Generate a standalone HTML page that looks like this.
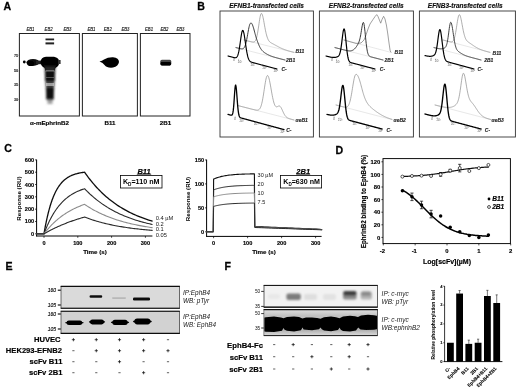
<!DOCTYPE html>
<html><head><meta charset="utf-8"><style>
html,body{margin:0;padding:0;background:#fff;}
body{width:520px;height:390px;overflow:hidden;}
svg{display:block;font-family:"Liberation Sans",sans-serif;}
</style></head><body>
<svg width="520" height="390" viewBox="0 0 520 390">
<rect x="0" y="0" width="520" height="390" fill="#fff"/>
<filter id="gb" x="0" y="0" width="520" height="390" filterUnits="userSpaceOnUse"><feGaussianBlur stdDeviation="0.32"/></filter>
<g filter="url(#gb)">
<text x="3.4" y="10" font-size="10.6" font-weight="bold" font-style="normal" text-anchor="start" fill="#000"  stroke="#000" stroke-width="0.254">A</text>
<text x="197.2" y="10" font-size="10.6" font-weight="bold" font-style="normal" text-anchor="start" fill="#000"  stroke="#000" stroke-width="0.254">B</text>
<text x="4.2" y="152" font-size="10.6" font-weight="bold" font-style="normal" text-anchor="start" fill="#000"  stroke="#000" stroke-width="0.254">C</text>
<text x="335.5" y="153.6" font-size="10.6" font-weight="bold" font-style="normal" text-anchor="start" fill="#000"  stroke="#000" stroke-width="0.254">D</text>
<text x="5.6" y="270" font-size="10.6" font-weight="bold" font-style="normal" text-anchor="start" fill="#000"  stroke="#000" stroke-width="0.254">E</text>
<text x="224.6" y="270" font-size="10.6" font-weight="bold" font-style="normal" text-anchor="start" fill="#000"  stroke="#000" stroke-width="0.254">F</text>
<defs>
<filter id="b1" x="-50%" y="-50%" width="200%" height="200%"><feGaussianBlur stdDeviation="0.7"/></filter>
<filter id="b2" x="-50%" y="-50%" width="200%" height="200%"><feGaussianBlur stdDeviation="1.2"/></filter>
<filter id="b3" x="-50%" y="-50%" width="200%" height="200%"><feGaussianBlur stdDeviation="0.45"/></filter>
<filter id="b4" x="-50%" y="-50%" width="200%" height="200%"><feGaussianBlur stdDeviation="1.8"/></filter>
</defs>
<rect x="19.4" y="33.5" width="60.00000000000001" height="82.5" fill="none" stroke="#222" stroke-width="1.0" />
<rect x="82.4" y="33.5" width="55.0" height="82.5" fill="none" stroke="#222" stroke-width="1.0" />
<rect x="140.4" y="33.5" width="49.599999999999994" height="82.5" fill="none" stroke="#222" stroke-width="1.0" />
<text x="26.4" y="31.3" font-size="4.9" font-weight="normal" font-style="italic" text-anchor="start" fill="#111" textLength="8" lengthAdjust="spacingAndGlyphs" stroke="#111" stroke-width="0.14">EB1</text>
<text x="44.6" y="31.3" font-size="4.9" font-weight="normal" font-style="italic" text-anchor="start" fill="#111" textLength="8" lengthAdjust="spacingAndGlyphs" stroke="#111" stroke-width="0.14">EB2</text>
<text x="63.4" y="31.3" font-size="4.9" font-weight="normal" font-style="italic" text-anchor="start" fill="#111" textLength="8" lengthAdjust="spacingAndGlyphs" stroke="#111" stroke-width="0.14">EB3</text>
<text x="87.4" y="31.3" font-size="4.9" font-weight="normal" font-style="italic" text-anchor="start" fill="#111" textLength="8" lengthAdjust="spacingAndGlyphs" stroke="#111" stroke-width="0.14">EB1</text>
<text x="103.80000000000001" y="31.3" font-size="4.9" font-weight="normal" font-style="italic" text-anchor="start" fill="#111" textLength="8" lengthAdjust="spacingAndGlyphs" stroke="#111" stroke-width="0.14">EB2</text>
<text x="121.4" y="31.3" font-size="4.9" font-weight="normal" font-style="italic" text-anchor="start" fill="#111" textLength="8" lengthAdjust="spacingAndGlyphs" stroke="#111" stroke-width="0.14">EB3</text>
<text x="145.0" y="31.3" font-size="4.9" font-weight="normal" font-style="italic" text-anchor="start" fill="#111" textLength="8" lengthAdjust="spacingAndGlyphs" stroke="#111" stroke-width="0.14">EB1</text>
<text x="160.4" y="31.3" font-size="4.9" font-weight="normal" font-style="italic" text-anchor="start" fill="#111" textLength="8" lengthAdjust="spacingAndGlyphs" stroke="#111" stroke-width="0.14">EB2</text>
<text x="176.4" y="31.3" font-size="4.9" font-weight="normal" font-style="italic" text-anchor="start" fill="#111" textLength="8" lengthAdjust="spacingAndGlyphs" stroke="#111" stroke-width="0.14">EB3</text>
<text x="18" y="56.6" font-size="3.7" font-weight="bold" font-style="normal" text-anchor="end" fill="#222"  stroke="#222" stroke-width="0.089">75</text>
<line x1="18.3" y1="55.2" x2="19.4" y2="55.2" stroke="#444" stroke-width="0.5" />
<text x="18" y="72.4" font-size="3.7" font-weight="bold" font-style="normal" text-anchor="end" fill="#222"  stroke="#222" stroke-width="0.089">50</text>
<line x1="18.3" y1="71" x2="19.4" y2="71" stroke="#444" stroke-width="0.5" />
<text x="18" y="86.4" font-size="3.7" font-weight="bold" font-style="normal" text-anchor="end" fill="#222"  stroke="#222" stroke-width="0.089">35</text>
<line x1="18.3" y1="85" x2="19.4" y2="85" stroke="#444" stroke-width="0.5" />
<text x="18" y="101.0" font-size="3.7" font-weight="bold" font-style="normal" text-anchor="end" fill="#222"  stroke="#222" stroke-width="0.089">30</text>
<line x1="18.3" y1="99.6" x2="19.4" y2="99.6" stroke="#444" stroke-width="0.5" />
<g filter="url(#b1)">
<ellipse cx="24.3" cy="62" rx="1.4" ry="1.4" fill="#000"/>
<ellipse cx="33" cy="62.4" rx="6.6" ry="3.5" fill="#111"/>
<ellipse cx="30.6" cy="63.3" rx="3.6" ry="2.8" fill="#000"/>
<rect x="36" y="60.6" width="8" height="3.6" fill="#222"/>
<path d="M40.4,62 Q41,57.4 46,56.8 L54,56.8 Q59,57.6 59.4,62 Q59,66.4 55.4,68 L54.6,71 L45.4,71 L44.6,68 Q41,66.6 40.4,62Z" fill="#000"/>
<rect x="58" y="60" width="2.6" height="4" fill="#333"/>
<rect x="45.5" y="38.5" width="8.6" height="1.8" fill="#222"/>
<rect x="45.5" y="42.4" width="8.6" height="2.0" fill="#222"/>
</g>
<g filter="url(#b2)">
<path d="M44.4,66 L55.6,66 L54.4,84 L53.6,100 L46.4,100 L45.6,84Z" fill="#2a2a2a" opacity="0.9"/>
<rect x="45" y="71" width="10" height="10" fill="#0a0a0a" opacity="0.9"/>
<rect x="46.4" y="88" width="7.2" height="11" fill="#0a0a0a" opacity="0.9"/>
<rect x="47.4" y="99" width="5.2" height="5" fill="#666" opacity="0.6"/>
</g>
<g filter="url(#b3)"><rect x="45.6" y="70.2" width="8.8" height="1.2" fill="#ccc" opacity="0.55"/><rect x="46" y="77" width="8" height="0.9" fill="#bbb" opacity="0.45"/><rect x="46" y="83" width="8" height="3" fill="#ddd" opacity="0.6"/></g>
<g filter="url(#b1)">
<path d="M99.5,61.5 Q102,61 104,59.5 Q108,57 113,57.2 Q119,58 119,62 Q118.5,66 113,67.6 Q107,68.3 104.5,65 Q103,62.8 99.5,61.5Z" fill="#000"/>
</g>
<g filter="url(#b1)">
<rect x="160.3" y="59.8" width="11" height="5.6" rx="1.6" fill="#444"/>
<rect x="160.5" y="62" width="10.6" height="3.4" rx="1.4" fill="#000"/>
</g>
<text x="49.5" y="125" font-size="6.2" font-weight="bold" font-style="normal" text-anchor="middle" fill="#000"  stroke="#000" stroke-width="0.149">α-mEphrinB2</text>
<text x="110" y="125" font-size="6.2" font-weight="bold" font-style="normal" text-anchor="middle" fill="#000"  stroke="#000" stroke-width="0.149">B11</text>
<text x="165.5" y="125" font-size="6.2" font-weight="bold" font-style="normal" text-anchor="middle" fill="#000"  stroke="#000" stroke-width="0.149">2B1</text>
<rect x="220" y="11" width="93.39999999999998" height="126" fill="none" stroke="#333" stroke-width="0.9" />
<text x="266.6" y="7.7" font-size="6.5" font-weight="bold" font-style="italic" text-anchor="middle" fill="#111"  stroke="#111" stroke-width="0.156">EFNB1-transfected cells</text>
<rect x="319.4" y="11" width="94.0" height="126" fill="none" stroke="#333" stroke-width="0.9" />
<text x="366.2" y="7.7" font-size="6.5" font-weight="bold" font-style="italic" text-anchor="middle" fill="#111"  stroke="#111" stroke-width="0.156">EFNB2-transfected cells</text>
<rect x="419.4" y="11" width="96.0" height="126" fill="none" stroke="#333" stroke-width="0.9" />
<text x="465.2" y="7.7" font-size="6.5" font-weight="bold" font-style="italic" text-anchor="middle" fill="#111"  stroke="#111" stroke-width="0.156">EFNB3-transfected cells</text>
<line x1="244" y1="40" x2="294" y2="52.4" stroke="#ccc" stroke-width="0.45" />
<path d="M244.00,40.00 L244.31,40.08 L244.62,40.15 L244.94,40.23 L245.25,40.31 L245.56,40.39 L245.88,40.46 L246.19,40.54 L246.50,40.62 L246.81,40.70 L247.12,40.77 L247.44,40.85 L247.75,40.93 L248.06,41.01 L248.38,41.08 L248.69,41.16 L249.00,41.24 L249.31,41.32 L249.62,41.39 L249.94,41.47 L250.25,41.55 L250.56,41.62 L250.88,41.70 L251.19,41.77 L251.50,41.84 L251.81,41.90 L252.12,41.96 L252.44,42.01 L252.75,42.05 L253.06,42.07 L253.38,42.06 L253.69,42.03 L254.00,41.95 L254.31,41.81 L254.62,41.61 L254.94,41.32 L255.25,40.93 L255.56,40.41 L255.88,39.75 L256.19,38.93 L256.50,37.93 L256.81,36.74 L257.12,35.36 L257.44,33.78 L257.75,32.01 L258.06,30.09 L258.38,28.04 L258.69,25.91 L259.00,23.76 L259.31,21.64 L259.62,19.63 L259.94,17.81 L260.25,16.23 L260.56,14.96 L260.88,14.06 L261.19,13.56 L261.50,13.47 L261.81,13.73 L262.12,14.28 L262.44,15.13 L262.75,16.22 L263.06,17.54 L263.38,19.03 L263.69,20.65 L264.00,22.36 L264.31,24.12 L264.62,25.88 L264.94,27.60 L265.25,29.26 L265.56,30.82 L265.88,32.29 L266.19,33.63 L266.50,34.86 L266.81,35.97 L267.12,36.96 L267.44,37.86 L267.75,38.66 L268.06,39.38 L268.38,40.01 L268.69,40.54 L269.00,41.00 L269.31,41.39 L269.62,41.73 L269.94,42.02 L270.25,42.27 L270.56,42.50 L270.88,42.71 L271.19,42.90 L271.50,43.08 L271.81,43.25 L272.12,43.42 L272.44,43.59 L272.75,43.75 L273.06,43.92 L273.38,44.08 L273.69,44.25 L274.00,44.42 L274.31,44.58 L274.62,44.75 L274.94,44.92 L275.25,45.10 L275.56,45.27 L275.88,45.44 L276.19,45.61 L276.50,45.79 L276.81,45.96 L277.12,46.13 L277.44,46.30 L277.75,46.47 L278.06,46.63 L278.38,46.80 L278.69,46.96 L279.00,47.13 L279.31,47.29 L279.62,47.44 L279.94,47.60 L280.25,47.75 L280.56,47.90 L280.88,48.05 L281.19,48.19 L281.50,48.34 L281.81,48.48 L282.12,48.61 L282.44,48.75 L282.75,48.88 L283.06,49.01 L283.38,49.13 L283.69,49.26 L284.00,49.38 L284.31,49.50 L284.62,49.61 L284.94,49.73 L285.25,49.84 L285.56,49.95 L285.88,50.06 L286.19,50.16 L286.50,50.26 L286.81,50.37 L287.12,50.47 L287.44,50.56 L287.75,50.66 L288.06,50.76 L288.38,50.85 L288.69,50.94 L289.00,51.03 L289.31,51.12 L289.62,51.21 L289.94,51.30 L290.25,51.39 L290.56,51.47 L290.88,51.56 L291.19,51.64 L291.50,51.73 L291.81,51.81 L292.12,51.89 L292.44,51.97 L292.75,52.06 L293.06,52.14 L293.38,52.22 L293.69,52.30 L294.00,52.38" stroke="#8a8a8a" stroke-width="0.7" fill="none" stroke-linejoin="round" stroke-linecap="round" />
<line x1="236" y1="47.6" x2="285" y2="60" stroke="#ccc" stroke-width="0.45" />
<path d="M236.00,47.60 L236.31,47.68 L236.61,47.75 L236.92,47.83 L237.22,47.91 L237.53,47.99 L237.84,48.06 L238.14,48.14 L238.45,48.22 L238.76,48.29 L239.06,48.37 L239.37,48.44 L239.68,48.52 L239.98,48.59 L240.29,48.66 L240.59,48.72 L240.90,48.78 L241.21,48.82 L241.51,48.86 L241.82,48.88 L242.12,48.87 L242.43,48.84 L242.74,48.77 L243.04,48.66 L243.35,48.49 L243.66,48.25 L243.96,47.93 L244.27,47.51 L244.57,46.99 L244.88,46.34 L245.19,45.56 L245.49,44.64 L245.80,43.57 L246.11,42.35 L246.41,41.00 L246.72,39.51 L247.03,37.92 L247.33,36.24 L247.64,34.51 L247.94,32.77 L248.25,31.06 L248.56,29.43 L248.86,27.91 L249.17,26.55 L249.47,25.38 L249.78,24.45 L250.09,23.76 L250.39,23.32 L250.70,23.06 L251.01,22.99 L251.31,23.08 L251.62,23.35 L251.93,23.77 L252.23,24.34 L252.54,25.04 L252.84,25.85 L253.15,26.76 L253.46,27.76 L253.76,28.82 L254.07,29.94 L254.38,31.10 L254.68,32.27 L254.99,33.43 L255.29,34.56 L255.60,35.66 L255.91,36.71 L256.21,37.73 L256.52,38.70 L256.82,39.63 L257.13,40.52 L257.44,41.38 L257.74,42.20 L258.05,42.99 L258.36,43.76 L258.66,44.50 L258.97,45.22 L259.27,45.91 L259.58,46.56 L259.89,47.17 L260.19,47.74 L260.50,48.26 L260.81,48.76 L261.11,49.21 L261.42,49.64 L261.73,50.03 L262.03,50.40 L262.34,50.74 L262.64,51.06 L262.95,51.36 L263.26,51.64 L263.56,51.90 L263.87,52.15 L264.18,52.39 L264.48,52.62 L264.79,52.83 L265.09,53.04 L265.40,53.24 L265.71,53.43 L266.01,53.62 L266.32,53.80 L266.62,53.98 L266.93,54.15 L267.24,54.32 L267.54,54.48 L267.85,54.64 L268.16,54.79 L268.46,54.94 L268.77,55.09 L269.07,55.23 L269.38,55.37 L269.69,55.51 L269.99,55.64 L270.30,55.77 L270.61,55.90 L270.91,56.02 L271.22,56.14 L271.52,56.25 L271.83,56.36 L272.14,56.47 L272.44,56.58 L272.75,56.68 L273.06,56.78 L273.36,56.88 L273.67,56.98 L273.98,57.08 L274.28,57.17 L274.59,57.26 L274.89,57.35 L275.20,57.44 L275.51,57.53 L275.81,57.62 L276.12,57.70 L276.43,57.79 L276.73,57.87 L277.04,57.95 L277.34,58.03 L277.65,58.12 L277.96,58.20 L278.26,58.28 L278.57,58.36 L278.88,58.44 L279.18,58.52 L279.49,58.60 L279.79,58.68 L280.10,58.75 L280.41,58.83 L280.71,58.91 L281.02,58.99 L281.32,59.07 L281.63,59.15 L281.94,59.22 L282.24,59.30 L282.55,59.38 L282.86,59.46 L283.16,59.53 L283.47,59.61 L283.77,59.69 L284.08,59.77 L284.39,59.84 L284.69,59.92 L285.00,60.00" stroke="#222" stroke-width="0.9" fill="none" stroke-linejoin="round" stroke-linecap="round" />
<path d="M228.00,56.00 L228.31,56.08 L228.61,56.16 L228.92,56.24 L229.22,56.32 L229.53,56.41 L229.84,56.49 L230.14,56.57 L230.45,56.65 L230.76,56.73 L231.06,56.81 L231.37,56.89 L231.68,56.97 L231.98,57.06 L232.29,57.14 L232.59,57.22 L232.90,57.29 L233.21,57.37 L233.51,57.45 L233.82,57.52 L234.12,57.58 L234.43,57.64 L234.74,57.68 L235.04,57.71 L235.35,57.71 L235.66,57.68 L235.96,57.60 L236.27,57.47 L236.57,57.25 L236.88,56.95 L237.19,56.52 L237.49,55.96 L237.80,55.23 L238.11,54.32 L238.41,53.21 L238.72,51.90 L239.03,50.36 L239.33,48.63 L239.64,46.71 L239.94,44.64 L240.25,42.47 L240.56,40.28 L240.86,38.12 L241.17,36.08 L241.47,34.24 L241.78,32.70 L242.09,31.51 L242.39,30.74 L242.70,30.43 L243.01,30.57 L243.31,31.13 L243.62,32.07 L243.93,33.36 L244.23,34.95 L244.54,36.79 L244.84,38.81 L245.15,40.94 L245.46,43.13 L245.76,45.30 L246.07,47.41 L246.38,49.41 L246.68,51.28 L246.99,52.97 L247.29,54.49 L247.60,55.83 L247.91,56.99 L248.21,57.98 L248.52,58.82 L248.82,59.51 L249.13,60.08 L249.44,60.55 L249.74,60.94 L250.05,61.25 L250.36,61.50 L250.66,61.71 L250.97,61.88 L251.28,62.03 L251.58,62.16 L251.89,62.27 L252.19,62.38 L252.50,62.47 L252.81,62.56 L253.11,62.65 L253.42,62.74 L253.72,62.82 L254.03,62.90 L254.34,62.99 L254.64,63.07 L254.95,63.15 L255.26,63.23 L255.56,63.31 L255.87,63.39 L256.18,63.47 L256.48,63.56 L256.79,63.64 L257.09,63.72 L257.40,63.80 L257.71,63.88 L258.01,63.96 L258.32,64.04 L258.62,64.12 L258.93,64.21 L259.24,64.29 L259.54,64.37 L259.85,64.45 L260.16,64.53 L260.46,64.61 L260.77,64.69 L261.07,64.77 L261.38,64.86 L261.69,64.94 L261.99,65.02 L262.30,65.10 L262.61,65.18 L262.91,65.26 L263.22,65.34 L263.52,65.42 L263.83,65.51 L264.14,65.59 L264.44,65.67 L264.75,65.75 L265.06,65.83 L265.36,65.91 L265.67,65.99 L265.98,66.08 L266.28,66.16 L266.59,66.24 L266.89,66.32 L267.20,66.40 L267.51,66.48 L267.81,66.56 L268.12,66.64 L268.43,66.72 L268.73,66.81 L269.04,66.89 L269.34,66.97 L269.65,67.05 L269.96,67.13 L270.26,67.21 L270.57,67.29 L270.88,67.38 L271.18,67.46 L271.49,67.54 L271.79,67.62 L272.10,67.70 L272.41,67.78 L272.71,67.86 L273.02,67.94 L273.32,68.03 L273.63,68.11 L273.94,68.19 L274.24,68.27 L274.55,68.35 L274.86,68.43 L275.16,68.51 L275.47,68.59 L275.77,68.67 L276.08,68.76 L276.39,68.84 L276.69,68.92 L277.00,69.00" stroke="#000" stroke-width="1.15" fill="none" stroke-linejoin="round" stroke-linecap="round" />
<text x="233.37" y="61.489999999999995" font-size="3.0" font-weight="normal" font-style="italic" text-anchor="start" fill="#555" >0</text>
<line x1="234.37" y1="57.69" x2="233.97" y2="58.79" stroke="#555" stroke-width="0.35" />
<text x="237.78" y="62.66" font-size="3.0" font-weight="normal" font-style="italic" text-anchor="start" fill="#555" >10²</text>
<line x1="238.78" y1="58.86" x2="238.38" y2="59.96" stroke="#555" stroke-width="0.35" />
<text x="250.52" y="66.04" font-size="3.0" font-weight="normal" font-style="italic" text-anchor="start" fill="#555" >10³</text>
<line x1="251.52" y1="62.24" x2="251.12" y2="63.34" stroke="#555" stroke-width="0.35" />
<text x="262.28" y="69.16" font-size="3.0" font-weight="normal" font-style="italic" text-anchor="start" fill="#555" >10⁴</text>
<line x1="263.28" y1="65.36" x2="262.88" y2="66.46" stroke="#555" stroke-width="0.35" />
<text x="273.55" y="72.14999999999999" font-size="3.0" font-weight="normal" font-style="italic" text-anchor="start" fill="#555" >10⁵</text>
<line x1="274.55" y1="68.35" x2="274.15000000000003" y2="69.44999999999999" stroke="#555" stroke-width="0.35" />
<text x="295.4" y="53" font-size="5.0" font-weight="bold" font-style="italic" text-anchor="start" fill="#222"  stroke="#222" stroke-width="0.120">B11</text>
<text x="286" y="61.7" font-size="5.0" font-weight="bold" font-style="italic" text-anchor="start" fill="#222"  stroke="#222" stroke-width="0.120">2B1</text>
<text x="281.4" y="71.2" font-size="5.0" font-weight="bold" font-style="italic" text-anchor="start" fill="#222"  stroke="#222" stroke-width="0.120">C-</text>
<line x1="238" y1="105.6" x2="294" y2="120" stroke="#ccc" stroke-width="0.45" />
<path d="M238.00,105.60 L238.35,105.69 L238.70,105.78 L239.05,105.87 L239.40,105.96 L239.75,106.05 L240.10,106.14 L240.45,106.23 L240.80,106.32 L241.15,106.41 L241.50,106.50 L241.85,106.59 L242.20,106.68 L242.55,106.77 L242.90,106.86 L243.25,106.95 L243.60,107.04 L243.95,107.13 L244.30,107.22 L244.65,107.31 L245.00,107.40 L245.35,107.49 L245.70,107.58 L246.05,107.67 L246.40,107.76 L246.75,107.85 L247.10,107.94 L247.45,108.03 L247.80,108.12 L248.15,108.21 L248.50,108.30 L248.85,108.39 L249.20,108.48 L249.55,108.57 L249.90,108.66 L250.25,108.75 L250.60,108.84 L250.95,108.92 L251.30,109.01 L251.65,109.10 L252.00,109.19 L252.35,109.28 L252.70,109.36 L253.05,109.45 L253.40,109.53 L253.75,109.62 L254.10,109.70 L254.45,109.78 L254.80,109.85 L255.15,109.93 L255.50,109.99 L255.85,110.05 L256.20,110.11 L256.55,110.14 L256.90,110.17 L257.25,110.17 L257.60,110.14 L257.95,110.08 L258.30,109.97 L258.65,109.81 L259.00,109.57 L259.35,109.26 L259.70,108.85 L260.05,108.32 L260.40,107.66 L260.75,106.86 L261.10,105.89 L261.45,104.74 L261.80,103.40 L262.15,101.88 L262.50,100.17 L262.85,98.28 L263.20,96.23 L263.55,94.04 L263.90,91.76 L264.25,89.43 L264.60,87.10 L264.95,84.84 L265.30,82.69 L265.65,80.73 L266.00,79.01 L266.35,77.59 L266.70,76.51 L267.05,75.82 L267.40,75.53 L267.75,75.60 L268.10,76.00 L268.45,76.71 L268.80,77.71 L269.15,78.97 L269.50,80.46 L269.85,82.14 L270.20,83.97 L270.55,85.90 L270.90,87.90 L271.25,89.91 L271.60,91.92 L271.95,93.87 L272.30,95.74 L272.65,97.50 L273.00,99.14 L273.35,100.64 L273.70,101.98 L274.05,103.15 L274.40,104.16 L274.75,105.00 L275.10,105.67 L275.45,106.18 L275.80,106.54 L276.15,106.75 L276.50,106.84 L276.85,106.82 L277.20,106.72 L277.55,106.56 L277.90,106.38 L278.25,106.19 L278.60,106.05 L278.95,105.96 L279.30,105.96 L279.65,106.07 L280.00,106.29 L280.35,106.63 L280.70,107.08 L281.05,107.62 L281.40,108.25 L281.75,108.94 L282.10,109.69 L282.45,110.46 L282.80,111.25 L283.15,112.03 L283.50,112.78 L283.85,113.50 L284.20,114.17 L284.55,114.78 L284.90,115.34 L285.25,115.83 L285.60,116.27 L285.95,116.66 L286.30,116.99 L286.65,117.29 L287.00,117.54 L287.35,117.76 L287.70,117.96 L288.05,118.13 L288.40,118.29 L288.75,118.43 L289.10,118.57 L289.45,118.69 L289.80,118.80 L290.15,118.92 L290.50,119.02 L290.85,119.13 L291.20,119.23 L291.55,119.33 L291.90,119.42 L292.25,119.52 L292.60,119.62 L292.95,119.71 L293.30,119.80 L293.65,119.90 L294.00,119.99" stroke="#8a8a8a" stroke-width="0.7" fill="none" stroke-linejoin="round" stroke-linecap="round" />
<path d="M228.00,114.40 L228.35,114.49 L228.70,114.59 L229.05,114.68 L229.40,114.78 L229.75,114.87 L230.10,114.97 L230.45,115.06 L230.80,115.14 L231.15,115.20 L231.50,115.20 L231.85,115.10 L232.20,114.76 L232.55,114.03 L232.90,112.67 L233.25,110.44 L233.60,107.16 L233.95,102.83 L234.30,97.77 L234.65,92.61 L235.00,88.23 L235.35,85.52 L235.70,85.06 L236.05,86.57 L236.40,89.63 L236.75,93.78 L237.10,98.42 L237.45,103.01 L237.80,107.10 L238.15,110.44 L238.50,112.99 L238.85,114.79 L239.20,116.00 L239.55,116.76 L239.90,117.24 L240.25,117.54 L240.60,117.74 L240.95,117.88 L241.30,118.00 L241.65,118.10 L242.00,118.20 L242.35,118.29 L242.70,118.39 L243.05,118.48 L243.40,118.58 L243.75,118.67 L244.10,118.77 L244.45,118.86 L244.80,118.96 L245.15,119.05 L245.50,119.15 L245.85,119.24 L246.20,119.34 L246.55,119.43 L246.90,119.53 L247.25,119.62 L247.60,119.72 L247.95,119.81 L248.30,119.91 L248.65,120.00 L249.00,120.10 L249.35,120.19 L249.70,120.29 L250.05,120.39 L250.40,120.48 L250.75,120.58 L251.10,120.67 L251.45,120.77 L251.80,120.86 L252.15,120.95 L252.50,121.05 L252.85,121.14 L253.20,121.24 L253.55,121.34 L253.90,121.43 L254.25,121.53 L254.60,121.62 L254.95,121.72 L255.30,121.81 L255.65,121.91 L256.00,122.00 L256.35,122.09 L256.70,122.19 L257.05,122.28 L257.40,122.38 L257.75,122.47 L258.10,122.57 L258.45,122.66 L258.80,122.76 L259.15,122.85 L259.50,122.95 L259.85,123.05 L260.20,123.14 L260.55,123.23 L260.90,123.33 L261.25,123.42 L261.60,123.52 L261.95,123.61 L262.30,123.71 L262.65,123.80 L263.00,123.90 L263.35,124.00 L263.70,124.09 L264.05,124.19 L264.40,124.28 L264.75,124.38 L265.10,124.47 L265.45,124.56 L265.80,124.66 L266.15,124.75 L266.50,124.85 L266.85,124.95 L267.20,125.04 L267.55,125.14 L267.90,125.23 L268.25,125.33 L268.60,125.42 L268.95,125.52 L269.30,125.61 L269.65,125.70 L270.00,125.80 L270.35,125.90 L270.70,125.99 L271.05,126.08 L271.40,126.18 L271.75,126.27 L272.10,126.37 L272.45,126.46 L272.80,126.56 L273.15,126.65 L273.50,126.75 L273.85,126.84 L274.20,126.94 L274.55,127.03 L274.90,127.13 L275.25,127.22 L275.60,127.32 L275.95,127.41 L276.30,127.51 L276.65,127.60 L277.00,127.70 L277.35,127.80 L277.70,127.89 L278.05,127.98 L278.40,128.08 L278.75,128.17 L279.10,128.27 L279.45,128.36 L279.80,128.46 L280.15,128.55 L280.50,128.65 L280.85,128.75 L281.20,128.84 L281.55,128.94 L281.90,129.03 L282.25,129.12 L282.60,129.22 L282.95,129.31 L283.30,129.41 L283.65,129.50 L284.00,129.60" stroke="#000" stroke-width="1.3" fill="none" stroke-linejoin="round" stroke-linecap="round" />
<text x="234.28" y="120.176" font-size="3.0" font-weight="normal" font-style="italic" text-anchor="start" fill="#555" >0</text>
<line x1="235.28" y1="116.376" x2="234.88" y2="117.476" stroke="#555" stroke-width="0.35" />
<text x="239.32" y="121.544" font-size="3.0" font-weight="normal" font-style="italic" text-anchor="start" fill="#555" >10²</text>
<line x1="240.32" y1="117.744" x2="239.92" y2="118.844" stroke="#555" stroke-width="0.35" />
<text x="253.88" y="125.496" font-size="3.0" font-weight="normal" font-style="italic" text-anchor="start" fill="#555" >10³</text>
<line x1="254.88" y1="121.696" x2="254.48" y2="122.79599999999999" stroke="#555" stroke-width="0.35" />
<text x="267.32" y="129.144" font-size="3.0" font-weight="normal" font-style="italic" text-anchor="start" fill="#555" >10⁴</text>
<line x1="268.32" y1="125.344" x2="267.92" y2="126.44399999999999" stroke="#555" stroke-width="0.35" />
<text x="280.2" y="132.64000000000001" font-size="3.0" font-weight="normal" font-style="italic" text-anchor="start" fill="#555" >10⁵</text>
<line x1="281.2" y1="128.84" x2="280.8" y2="129.94" stroke="#555" stroke-width="0.35" />
<text x="295.6" y="121.7" font-size="5.0" font-weight="bold" font-style="italic" text-anchor="start" fill="#222"  stroke="#222" stroke-width="0.120">αeB1</text>
<text x="286.2" y="132" font-size="5.0" font-weight="bold" font-style="italic" text-anchor="start" fill="#222"  stroke="#222" stroke-width="0.120">C-</text>
<line x1="344" y1="40" x2="391" y2="52.4" stroke="#ccc" stroke-width="0.45" />
<path d="M344.00,40.00 L356.00,43.40 L361.00,43.00 L364.00,40.00 L366.00,35.00 L368.00,29.00 L370.00,24.00 L372.80,19.80 L375.00,16.60 L376.70,14.60 L378.00,16.50 L379.40,20.00 L380.70,23.20 L382.00,19.50 L383.60,16.30 L385.00,19.00 L386.40,25.00 L387.80,34.00 L389.00,43.00 L390.20,51.00 L391.00,52.20" stroke="#777" stroke-width="0.7" fill="none" stroke-linejoin="round" stroke-linecap="round" />
<line x1="335" y1="47.6" x2="383" y2="60" stroke="#ccc" stroke-width="0.45" />
<path d="M335.00,47.60 L335.30,47.68 L335.60,47.75 L335.90,47.83 L336.20,47.91 L336.50,47.99 L336.80,48.06 L337.10,48.14 L337.40,48.22 L337.70,48.30 L338.00,48.37 L338.30,48.45 L338.60,48.53 L338.90,48.61 L339.20,48.68 L339.50,48.76 L339.80,48.84 L340.10,48.92 L340.40,48.99 L340.70,49.07 L341.00,49.15 L341.30,49.23 L341.60,49.30 L341.90,49.38 L342.20,49.46 L342.50,49.53 L342.80,49.61 L343.10,49.68 L343.40,49.76 L343.70,49.84 L344.00,49.91 L344.30,49.98 L344.60,50.06 L344.90,50.13 L345.20,50.20 L345.50,50.27 L345.80,50.34 L346.10,50.40 L346.40,50.47 L346.70,50.53 L347.00,50.59 L347.30,50.64 L347.60,50.70 L347.90,50.74 L348.20,50.79 L348.50,50.82 L348.80,50.85 L349.10,50.88 L349.40,50.89 L349.70,50.90 L350.00,50.90 L350.30,50.88 L350.60,50.86 L350.90,50.82 L351.20,50.76 L351.50,50.70 L351.80,50.61 L352.10,50.51 L352.40,50.39 L352.70,50.25 L353.00,50.08 L353.30,49.90 L353.60,49.70 L353.90,49.47 L354.20,49.21 L354.50,48.94 L354.80,48.64 L355.10,48.32 L355.40,47.97 L355.70,47.60 L356.00,47.21 L356.30,46.80 L356.60,46.36 L356.90,45.91 L357.20,45.43 L357.50,44.93 L357.80,44.40 L358.10,43.83 L358.40,43.22 L358.70,42.54 L359.00,41.78 L359.30,40.92 L359.60,39.93 L359.90,38.78 L360.20,37.47 L360.50,35.99 L360.80,34.33 L361.10,32.54 L361.40,30.66 L361.70,28.77 L362.00,26.95 L362.30,25.32 L362.60,23.97 L362.90,23.01 L363.20,22.50 L363.50,22.50 L363.80,23.18 L364.10,24.55 L364.40,26.51 L364.70,28.96 L365.00,31.75 L365.30,34.73 L365.60,37.76 L365.90,40.70 L366.20,43.46 L366.50,45.96 L366.80,48.15 L367.10,50.02 L367.40,51.57 L367.70,52.83 L368.00,53.82 L368.30,54.59 L368.60,55.17 L368.90,55.62 L369.20,55.95 L369.50,56.20 L369.80,56.40 L370.10,56.55 L370.40,56.67 L370.70,56.78 L371.00,56.88 L371.30,56.96 L371.60,57.05 L371.90,57.13 L372.20,57.21 L372.50,57.29 L372.80,57.36 L373.10,57.44 L373.40,57.52 L373.70,57.60 L374.00,57.67 L374.30,57.75 L374.60,57.83 L374.90,57.91 L375.20,57.98 L375.50,58.06 L375.80,58.14 L376.10,58.22 L376.40,58.29 L376.70,58.37 L377.00,58.45 L377.30,58.53 L377.60,58.60 L377.90,58.68 L378.20,58.76 L378.50,58.84 L378.80,58.91 L379.10,58.99 L379.40,59.07 L379.70,59.15 L380.00,59.22 L380.30,59.30 L380.60,59.38 L380.90,59.46 L381.20,59.53 L381.50,59.61 L381.80,59.69 L382.10,59.77 L382.40,59.84 L382.70,59.92 L383.00,60.00" stroke="#222" stroke-width="0.9" fill="none" stroke-linejoin="round" stroke-linecap="round" />
<path d="M326.00,56.00 L326.31,56.08 L326.61,56.16 L326.92,56.23 L327.23,56.31 L327.53,56.39 L327.84,56.47 L328.14,56.55 L328.45,56.62 L328.76,56.70 L329.06,56.77 L329.37,56.84 L329.68,56.91 L329.98,56.98 L330.29,57.04 L330.59,57.11 L330.90,57.16 L331.21,57.22 L331.51,57.27 L331.82,57.31 L332.12,57.36 L332.43,57.39 L332.74,57.42 L333.04,57.44 L333.35,57.45 L333.66,57.46 L333.96,57.46 L334.27,57.45 L334.57,57.43 L334.88,57.40 L335.19,57.36 L335.49,57.31 L335.80,57.25 L336.11,57.19 L336.41,57.10 L336.72,57.01 L337.02,56.91 L337.33,56.78 L337.64,56.63 L337.94,56.44 L338.25,56.22 L338.56,55.92 L338.86,55.55 L339.17,55.06 L339.48,54.43 L339.78,53.62 L340.09,52.60 L340.39,51.34 L340.70,49.81 L341.01,48.00 L341.31,45.93 L341.62,43.62 L341.93,41.15 L342.23,38.59 L342.54,36.07 L342.84,33.72 L343.15,31.70 L343.46,30.15 L343.76,29.20 L344.07,28.90 L344.38,29.30 L344.68,30.45 L344.99,32.27 L345.29,34.66 L345.60,37.45 L345.91,40.49 L346.21,43.61 L346.52,46.66 L346.82,49.51 L347.13,52.09 L347.44,54.33 L347.74,56.21 L348.05,57.76 L348.36,58.99 L348.66,59.95 L348.97,60.68 L349.27,61.23 L349.58,61.64 L349.89,61.94 L350.19,62.17 L350.50,62.35 L350.81,62.49 L351.11,62.61 L351.42,62.71 L351.73,62.81 L352.03,62.90 L352.34,62.98 L352.64,63.07 L352.95,63.15 L353.26,63.23 L353.56,63.31 L353.87,63.39 L354.18,63.47 L354.48,63.56 L354.79,63.64 L355.09,63.72 L355.40,63.80 L355.71,63.88 L356.01,63.96 L356.32,64.04 L356.62,64.12 L356.93,64.21 L357.24,64.29 L357.54,64.37 L357.85,64.45 L358.16,64.53 L358.46,64.61 L358.77,64.69 L359.07,64.77 L359.38,64.86 L359.69,64.94 L359.99,65.02 L360.30,65.10 L360.61,65.18 L360.91,65.26 L361.22,65.34 L361.52,65.42 L361.83,65.51 L362.14,65.59 L362.44,65.67 L362.75,65.75 L363.06,65.83 L363.36,65.91 L363.67,65.99 L363.98,66.08 L364.28,66.16 L364.59,66.24 L364.89,66.32 L365.20,66.40 L365.51,66.48 L365.81,66.56 L366.12,66.64 L366.43,66.72 L366.73,66.81 L367.04,66.89 L367.34,66.97 L367.65,67.05 L367.96,67.13 L368.26,67.21 L368.57,67.29 L368.88,67.38 L369.18,67.46 L369.49,67.54 L369.79,67.62 L370.10,67.70 L370.41,67.78 L370.71,67.86 L371.02,67.94 L371.32,68.03 L371.63,68.11 L371.94,68.19 L372.24,68.27 L372.55,68.35 L372.86,68.43 L373.16,68.51 L373.47,68.59 L373.77,68.67 L374.08,68.76 L374.39,68.84 L374.69,68.92 L375.00,69.00" stroke="#000" stroke-width="1.2" fill="none" stroke-linejoin="round" stroke-linecap="round" />
<text x="331.37" y="61.489999999999995" font-size="3.0" font-weight="normal" font-style="italic" text-anchor="start" fill="#555" >0</text>
<line x1="332.37" y1="57.69" x2="331.97" y2="58.79" stroke="#555" stroke-width="0.35" />
<text x="335.78" y="62.66" font-size="3.0" font-weight="normal" font-style="italic" text-anchor="start" fill="#555" >10²</text>
<line x1="336.78" y1="58.86" x2="336.38" y2="59.96" stroke="#555" stroke-width="0.35" />
<text x="348.52" y="66.04" font-size="3.0" font-weight="normal" font-style="italic" text-anchor="start" fill="#555" >10³</text>
<line x1="349.52" y1="62.24" x2="349.12" y2="63.34" stroke="#555" stroke-width="0.35" />
<text x="360.28" y="69.16" font-size="3.0" font-weight="normal" font-style="italic" text-anchor="start" fill="#555" >10⁴</text>
<line x1="361.28" y1="65.36" x2="360.88" y2="66.46" stroke="#555" stroke-width="0.35" />
<text x="371.55" y="72.14999999999999" font-size="3.0" font-weight="normal" font-style="italic" text-anchor="start" fill="#555" >10⁵</text>
<line x1="372.55" y1="68.35" x2="372.15000000000003" y2="69.44999999999999" stroke="#555" stroke-width="0.35" />
<text x="394.6" y="54" font-size="5.0" font-weight="bold" font-style="italic" text-anchor="start" fill="#222"  stroke="#222" stroke-width="0.120">B11</text>
<text x="384.6" y="61.6" font-size="5.0" font-weight="bold" font-style="italic" text-anchor="start" fill="#222"  stroke="#222" stroke-width="0.120">2B1</text>
<text x="379.8" y="71.2" font-size="5.0" font-weight="bold" font-style="italic" text-anchor="start" fill="#222"  stroke="#222" stroke-width="0.120">C-</text>
<line x1="336" y1="105" x2="392" y2="119.6" stroke="#ccc" stroke-width="0.45" />
<path d="M336.00,105.00 L336.35,105.09 L336.70,105.18 L337.05,105.27 L337.40,105.36 L337.75,105.46 L338.10,105.55 L338.45,105.64 L338.80,105.73 L339.15,105.82 L339.50,105.91 L339.85,106.00 L340.20,106.09 L340.55,106.18 L340.90,106.28 L341.25,106.37 L341.60,106.46 L341.95,106.54 L342.30,106.63 L342.65,106.72 L343.00,106.80 L343.35,106.89 L343.70,106.97 L344.05,107.04 L344.40,107.10 L344.75,107.16 L345.10,107.20 L345.45,107.22 L345.80,107.22 L346.15,107.18 L346.50,107.11 L346.85,106.99 L347.20,106.80 L347.55,106.54 L347.90,106.19 L348.25,105.74 L348.60,105.16 L348.95,104.44 L349.30,103.57 L349.65,102.54 L350.00,101.33 L350.35,99.94 L350.70,98.38 L351.05,96.64 L351.40,94.75 L351.75,92.73 L352.10,90.61 L352.45,88.43 L352.80,86.24 L353.15,84.09 L353.50,82.04 L353.85,80.14 L354.20,78.45 L354.55,77.02 L354.90,75.89 L355.25,75.09 L355.60,74.64 L355.95,74.45 L356.30,74.40 L356.65,74.49 L357.00,74.73 L357.35,75.10 L357.70,75.60 L358.05,76.22 L358.40,76.97 L358.75,77.82 L359.10,78.76 L359.45,79.79 L359.80,80.90 L360.15,82.07 L360.50,83.30 L360.85,84.56 L361.20,85.86 L361.55,87.18 L361.90,88.51 L362.25,89.84 L362.60,91.13 L362.95,92.37 L363.30,93.56 L363.65,94.69 L364.00,95.77 L364.35,96.78 L364.70,97.74 L365.05,98.63 L365.40,99.47 L365.75,100.25 L366.10,100.98 L366.45,101.66 L366.80,102.28 L367.15,102.87 L367.50,103.42 L367.85,103.92 L368.20,104.40 L368.55,104.85 L368.90,105.27 L369.25,105.67 L369.60,106.05 L369.95,106.41 L370.30,106.75 L370.65,107.09 L371.00,107.41 L371.35,107.72 L371.70,108.03 L372.05,108.33 L372.40,108.62 L372.75,108.91 L373.10,109.19 L373.45,109.47 L373.80,109.75 L374.15,110.02 L374.50,110.29 L374.85,110.56 L375.20,110.82 L375.55,111.09 L375.90,111.34 L376.25,111.60 L376.60,111.85 L376.95,112.10 L377.30,112.34 L377.65,112.59 L378.00,112.82 L378.35,113.06 L378.70,113.29 L379.05,113.52 L379.40,113.74 L379.75,113.96 L380.10,114.17 L380.45,114.38 L380.80,114.59 L381.15,114.79 L381.50,114.99 L381.85,115.19 L382.20,115.38 L382.55,115.56 L382.90,115.75 L383.25,115.93 L383.60,116.10 L383.95,116.27 L384.30,116.44 L384.65,116.60 L385.00,116.76 L385.35,116.92 L385.70,117.07 L386.05,117.22 L386.40,117.37 L386.75,117.52 L387.10,117.66 L387.45,117.79 L387.80,117.93 L388.15,118.06 L388.50,118.19 L388.85,118.32 L389.20,118.45 L389.55,118.57 L389.90,118.69 L390.25,118.81 L390.60,118.93 L390.95,119.04 L391.30,119.16 L391.65,119.27 L392.00,119.38" stroke="#8a8a8a" stroke-width="0.7" fill="none" stroke-linejoin="round" stroke-linecap="round" />
<path d="M327.00,114.37 L327.34,114.46 L327.69,114.54 L328.03,114.62 L328.38,114.69 L328.72,114.77 L329.06,114.84 L329.41,114.90 L329.75,114.96 L330.09,115.02 L330.44,115.07 L330.78,115.11 L331.12,115.14 L331.47,115.17 L331.81,115.18 L332.16,115.19 L332.50,115.18 L332.84,115.17 L333.19,115.13 L333.53,115.09 L333.88,115.03 L334.22,114.96 L334.56,114.88 L334.91,114.78 L335.25,114.67 L335.59,114.54 L335.94,114.39 L336.28,114.21 L336.62,113.99 L336.97,113.73 L337.31,113.39 L337.66,112.94 L338.00,112.35 L338.34,111.57 L338.69,110.55 L339.03,109.24 L339.38,107.60 L339.72,105.60 L340.06,103.25 L340.41,100.60 L340.75,97.72 L341.09,94.75 L341.44,91.86 L341.78,89.27 L342.12,87.22 L342.47,85.87 L342.81,85.37 L343.16,85.77 L343.50,87.14 L343.84,89.37 L344.19,92.30 L344.53,95.70 L344.88,99.31 L345.22,102.92 L345.56,106.31 L345.91,109.36 L346.25,111.97 L346.59,114.13 L346.94,115.84 L347.28,117.15 L347.62,118.13 L347.97,118.84 L348.31,119.35 L348.66,119.72 L349.00,119.99 L349.34,120.18 L349.69,120.34 L350.03,120.47 L350.38,120.58 L350.72,120.68 L351.06,120.78 L351.41,120.88 L351.75,120.97 L352.09,121.06 L352.44,121.15 L352.78,121.24 L353.12,121.33 L353.47,121.43 L353.81,121.52 L354.16,121.61 L354.50,121.70 L354.84,121.79 L355.19,121.88 L355.53,121.97 L355.88,122.06 L356.22,122.16 L356.56,122.25 L356.91,122.34 L357.25,122.43 L357.59,122.52 L357.94,122.61 L358.28,122.70 L358.62,122.79 L358.97,122.89 L359.31,122.98 L359.66,123.07 L360.00,123.16 L360.34,123.25 L360.69,123.34 L361.03,123.43 L361.38,123.52 L361.72,123.62 L362.06,123.71 L362.41,123.80 L362.75,123.89 L363.09,123.98 L363.44,124.07 L363.78,124.16 L364.12,124.25 L364.47,124.35 L364.81,124.44 L365.16,124.53 L365.50,124.62 L365.84,124.71 L366.19,124.80 L366.53,124.89 L366.88,124.98 L367.22,125.08 L367.56,125.17 L367.91,125.26 L368.25,125.35 L368.59,125.44 L368.94,125.53 L369.28,125.62 L369.62,125.72 L369.97,125.81 L370.31,125.90 L370.66,125.99 L371.00,126.08 L371.34,126.17 L371.69,126.26 L372.03,126.35 L372.38,126.45 L372.72,126.54 L373.06,126.63 L373.41,126.72 L373.75,126.81 L374.09,126.90 L374.44,126.99 L374.78,127.08 L375.12,127.17 L375.47,127.27 L375.81,127.36 L376.16,127.45 L376.50,127.54 L376.84,127.63 L377.19,127.72 L377.53,127.81 L377.88,127.91 L378.22,128.00 L378.56,128.09 L378.91,128.18 L379.25,128.27 L379.59,128.36 L379.94,128.45 L380.28,128.54 L380.62,128.63 L380.97,128.73 L381.31,128.82 L381.66,128.91 L382.00,129.00" stroke="#000" stroke-width="1.35" fill="none" stroke-linejoin="round" stroke-linecap="round" />
<text x="333.15" y="120.098" font-size="3.0" font-weight="normal" font-style="italic" text-anchor="start" fill="#555" >0</text>
<line x1="334.15" y1="116.298" x2="333.75" y2="117.398" stroke="#555" stroke-width="0.35" />
<text x="338.1" y="121.412" font-size="3.0" font-weight="normal" font-style="italic" text-anchor="start" fill="#555" >10²</text>
<line x1="339.1" y1="117.61200000000001" x2="338.70000000000005" y2="118.712" stroke="#555" stroke-width="0.35" />
<text x="352.4" y="125.208" font-size="3.0" font-weight="normal" font-style="italic" text-anchor="start" fill="#555" >10³</text>
<line x1="353.4" y1="121.408" x2="353.0" y2="122.508" stroke="#555" stroke-width="0.35" />
<text x="365.6" y="128.71200000000002" font-size="3.0" font-weight="normal" font-style="italic" text-anchor="start" fill="#555" >10⁴</text>
<line x1="366.6" y1="124.912" x2="366.20000000000005" y2="126.012" stroke="#555" stroke-width="0.35" />
<text x="378.25" y="132.07000000000002" font-size="3.0" font-weight="normal" font-style="italic" text-anchor="start" fill="#555" >10⁵</text>
<line x1="379.25" y1="128.27" x2="378.85" y2="129.37" stroke="#555" stroke-width="0.35" />
<text x="393.6" y="121.7" font-size="5.0" font-weight="bold" font-style="italic" text-anchor="start" fill="#222"  stroke="#222" stroke-width="0.120">αeB2</text>
<text x="386.4" y="131.8" font-size="5.0" font-weight="bold" font-style="italic" text-anchor="start" fill="#222"  stroke="#222" stroke-width="0.120">C-</text>
<line x1="443" y1="40" x2="490" y2="52.4" stroke="#ccc" stroke-width="0.45" />
<path d="M443.00,40.00 L443.29,40.08 L443.59,40.15 L443.88,40.23 L444.18,40.31 L444.47,40.39 L444.76,40.46 L445.06,40.54 L445.35,40.62 L445.64,40.70 L445.94,40.77 L446.23,40.85 L446.52,40.93 L446.82,41.01 L447.11,41.08 L447.41,41.16 L447.70,41.24 L447.99,41.32 L448.29,41.39 L448.58,41.47 L448.88,41.54 L449.17,41.61 L449.46,41.68 L449.76,41.75 L450.05,41.81 L450.34,41.86 L450.64,41.90 L450.93,41.93 L451.23,41.94 L451.52,41.92 L451.81,41.87 L452.11,41.78 L452.40,41.63 L452.69,41.41 L452.99,41.12 L453.28,40.73 L453.57,40.24 L453.87,39.61 L454.16,38.85 L454.46,37.93 L454.75,36.86 L455.04,35.62 L455.34,34.21 L455.63,32.65 L455.93,30.96 L456.22,29.15 L456.51,27.26 L456.81,25.34 L457.10,23.43 L457.39,21.58 L457.69,19.86 L457.98,18.30 L458.27,16.98 L458.57,15.92 L458.86,15.17 L459.16,14.76 L459.45,14.68 L459.74,14.90 L460.04,15.40 L460.33,16.17 L460.62,17.17 L460.92,18.38 L461.21,19.74 L461.51,21.23 L461.80,22.80 L462.09,24.40 L462.39,26.01 L462.68,27.59 L462.98,29.12 L463.27,30.57 L463.56,31.93 L463.86,33.19 L464.15,34.35 L464.44,35.41 L464.74,36.38 L465.03,37.27 L465.32,38.05 L465.62,38.73 L465.91,39.32 L466.21,39.82 L466.50,40.26 L466.79,40.64 L467.09,40.97 L467.38,41.27 L467.68,41.53 L467.97,41.78 L468.26,42.01 L468.56,42.23 L468.85,42.44 L469.14,42.64 L469.44,42.84 L469.73,43.05 L470.02,43.25 L470.32,43.45 L470.61,43.65 L470.91,43.85 L471.20,44.06 L471.49,44.26 L471.79,44.47 L472.08,44.67 L472.38,44.88 L472.67,45.08 L472.96,45.29 L473.26,45.49 L473.55,45.69 L473.84,45.89 L474.14,46.08 L474.43,46.28 L474.73,46.47 L475.02,46.65 L475.31,46.84 L475.61,47.02 L475.90,47.19 L476.19,47.37 L476.49,47.53 L476.78,47.70 L477.07,47.86 L477.37,48.02 L477.66,48.17 L477.96,48.32 L478.25,48.47 L478.54,48.61 L478.84,48.75 L479.13,48.88 L479.43,49.01 L479.72,49.14 L480.01,49.26 L480.31,49.38 L480.60,49.50 L480.89,49.62 L481.19,49.73 L481.48,49.84 L481.77,49.95 L482.07,50.05 L482.36,50.15 L482.66,50.25 L482.95,50.35 L483.24,50.45 L483.54,50.54 L483.83,50.64 L484.12,50.73 L484.42,50.82 L484.71,50.91 L485.01,51.00 L485.30,51.09 L485.59,51.17 L485.89,51.26 L486.18,51.34 L486.48,51.42 L486.77,51.51 L487.06,51.59 L487.36,51.67 L487.65,51.75 L487.94,51.83 L488.24,51.91 L488.53,51.99 L488.82,52.07 L489.12,52.15 L489.41,52.23 L489.71,52.31 L490.00,52.39" stroke="#8a8a8a" stroke-width="0.7" fill="none" stroke-linejoin="round" stroke-linecap="round" />
<line x1="434" y1="47.6" x2="481" y2="60" stroke="#ccc" stroke-width="0.45" />
<path d="M434.00,47.59 L434.29,47.66 L434.59,47.74 L434.88,47.81 L435.18,47.88 L435.47,47.96 L435.76,48.03 L436.06,48.10 L436.35,48.16 L436.64,48.23 L436.94,48.29 L437.23,48.36 L437.52,48.41 L437.82,48.47 L438.11,48.52 L438.41,48.57 L438.70,48.62 L438.99,48.66 L439.29,48.69 L439.58,48.72 L439.88,48.74 L440.17,48.76 L440.46,48.77 L440.76,48.78 L441.05,48.77 L441.34,48.76 L441.64,48.74 L441.93,48.72 L442.23,48.68 L442.52,48.64 L442.81,48.59 L443.11,48.53 L443.40,48.46 L443.69,48.37 L443.99,48.27 L444.28,48.14 L444.57,47.99 L444.87,47.79 L445.16,47.55 L445.46,47.23 L445.75,46.82 L446.04,46.29 L446.34,45.61 L446.63,44.76 L446.93,43.71 L447.22,42.43 L447.51,40.93 L447.81,39.19 L448.10,37.25 L448.39,35.13 L448.69,32.90 L448.98,30.64 L449.27,28.46 L449.57,26.44 L449.86,24.72 L450.16,23.40 L450.45,22.57 L450.74,22.26 L451.04,22.46 L451.33,23.04 L451.62,23.98 L451.92,25.24 L452.21,26.77 L452.51,28.52 L452.80,30.42 L453.09,32.40 L453.39,34.41 L453.68,36.39 L453.98,38.30 L454.27,40.11 L454.56,41.78 L454.86,43.30 L455.15,44.67 L455.44,45.86 L455.74,46.89 L456.03,47.78 L456.32,48.53 L456.62,49.16 L456.91,49.69 L457.21,50.14 L457.50,50.53 L457.79,50.87 L458.09,51.16 L458.38,51.43 L458.68,51.67 L458.97,51.89 L459.26,52.11 L459.56,52.32 L459.85,52.51 L460.14,52.71 L460.44,52.90 L460.73,53.09 L461.02,53.27 L461.32,53.45 L461.61,53.63 L461.91,53.81 L462.20,53.98 L462.49,54.14 L462.79,54.30 L463.08,54.46 L463.38,54.61 L463.67,54.76 L463.96,54.90 L464.26,55.04 L464.55,55.18 L464.84,55.31 L465.14,55.43 L465.43,55.55 L465.73,55.67 L466.02,55.78 L466.31,55.89 L466.61,56.00 L466.90,56.10 L467.19,56.20 L467.49,56.30 L467.78,56.40 L468.07,56.49 L468.37,56.58 L468.66,56.67 L468.96,56.76 L469.25,56.85 L469.54,56.93 L469.84,57.02 L470.13,57.10 L470.43,57.18 L470.72,57.27 L471.01,57.35 L471.31,57.43 L471.60,57.51 L471.89,57.59 L472.19,57.67 L472.48,57.75 L472.77,57.82 L473.07,57.90 L473.36,57.98 L473.66,58.06 L473.95,58.14 L474.24,58.22 L474.54,58.29 L474.83,58.37 L475.12,58.45 L475.42,58.53 L475.71,58.60 L476.01,58.68 L476.30,58.76 L476.59,58.84 L476.89,58.91 L477.18,58.99 L477.48,59.07 L477.77,59.15 L478.06,59.22 L478.36,59.30 L478.65,59.38 L478.94,59.46 L479.24,59.53 L479.53,59.61 L479.82,59.69 L480.12,59.77 L480.41,59.84 L480.71,59.92 L481.00,60.00" stroke="#222" stroke-width="0.85" fill="none" stroke-linejoin="round" stroke-linecap="round" />
<path d="M425.00,55.56 L425.31,55.63 L425.61,55.71 L425.92,55.78 L426.23,55.84 L426.53,55.91 L426.84,55.97 L427.14,56.03 L427.45,56.08 L427.76,56.13 L428.06,56.18 L428.37,56.21 L428.68,56.25 L428.98,56.27 L429.29,56.29 L429.59,56.30 L429.90,56.30 L430.21,56.30 L430.51,56.28 L430.82,56.26 L431.12,56.22 L431.43,56.18 L431.74,56.12 L432.04,56.06 L432.35,55.98 L432.66,55.89 L432.96,55.78 L433.27,55.66 L433.57,55.50 L433.88,55.31 L434.19,55.07 L434.49,54.76 L434.80,54.36 L435.11,53.85 L435.41,53.18 L435.72,52.34 L436.02,51.29 L436.33,49.99 L436.64,48.45 L436.94,46.64 L437.25,44.61 L437.56,42.38 L437.86,40.03 L438.17,37.65 L438.48,35.36 L438.78,33.27 L439.09,31.55 L439.39,30.30 L439.70,29.64 L440.01,29.60 L440.31,30.16 L440.62,31.24 L440.93,32.78 L441.23,34.72 L441.54,36.97 L441.84,39.41 L442.15,41.96 L442.46,44.51 L442.76,46.99 L443.07,49.31 L443.38,51.43 L443.68,53.31 L443.99,54.95 L444.29,56.35 L444.60,57.51 L444.91,58.46 L445.21,59.23 L445.52,59.84 L445.82,60.32 L446.13,60.70 L446.44,60.99 L446.74,61.23 L447.05,61.42 L447.36,61.57 L447.66,61.71 L447.97,61.82 L448.27,61.93 L448.58,62.03 L448.89,62.12 L449.19,62.21 L449.50,62.29 L449.81,62.38 L450.11,62.47 L450.42,62.55 L450.73,62.63 L451.03,62.72 L451.34,62.80 L451.64,62.89 L451.95,62.97 L452.26,63.05 L452.56,63.14 L452.87,63.22 L453.18,63.30 L453.48,63.39 L453.79,63.47 L454.09,63.56 L454.40,63.64 L454.71,63.72 L455.01,63.81 L455.32,63.89 L455.62,63.97 L455.93,64.06 L456.24,64.14 L456.54,64.23 L456.85,64.31 L457.16,64.39 L457.46,64.48 L457.77,64.56 L458.07,64.64 L458.38,64.73 L458.69,64.81 L458.99,64.90 L459.30,64.98 L459.61,65.06 L459.91,65.15 L460.22,65.23 L460.52,65.31 L460.83,65.40 L461.14,65.48 L461.44,65.57 L461.75,65.65 L462.06,65.73 L462.36,65.82 L462.67,65.90 L462.98,65.99 L463.28,66.07 L463.59,66.15 L463.89,66.24 L464.20,66.32 L464.51,66.40 L464.81,66.49 L465.12,66.57 L465.43,66.66 L465.73,66.74 L466.04,66.82 L466.34,66.91 L466.65,66.99 L466.96,67.07 L467.26,67.16 L467.57,67.24 L467.88,67.33 L468.18,67.41 L468.49,67.49 L468.79,67.58 L469.10,67.66 L469.41,67.74 L469.71,67.83 L470.02,67.91 L470.32,68.00 L470.63,68.08 L470.94,68.16 L471.24,68.25 L471.55,68.33 L471.86,68.41 L472.16,68.50 L472.47,68.58 L472.77,68.66 L473.08,68.75 L473.39,68.83 L473.69,68.92 L474.00,69.00" stroke="#000" stroke-width="1.2" fill="none" stroke-linejoin="round" stroke-linecap="round" />
<text x="430.37" y="61.141999999999996" font-size="3.0" font-weight="normal" font-style="italic" text-anchor="start" fill="#555" >0</text>
<line x1="431.37" y1="57.342" x2="430.97" y2="58.442" stroke="#555" stroke-width="0.35" />
<text x="434.78" y="62.348" font-size="3.0" font-weight="normal" font-style="italic" text-anchor="start" fill="#555" >10²</text>
<line x1="435.78" y1="58.548" x2="435.38" y2="59.648" stroke="#555" stroke-width="0.35" />
<text x="447.52" y="65.83200000000001" font-size="3.0" font-weight="normal" font-style="italic" text-anchor="start" fill="#555" >10³</text>
<line x1="448.52" y1="62.032000000000004" x2="448.12" y2="63.132000000000005" stroke="#555" stroke-width="0.35" />
<text x="459.28" y="69.048" font-size="3.0" font-weight="normal" font-style="italic" text-anchor="start" fill="#555" >10⁴</text>
<line x1="460.28" y1="65.248" x2="459.88" y2="66.348" stroke="#555" stroke-width="0.35" />
<text x="470.55" y="72.13" font-size="3.0" font-weight="normal" font-style="italic" text-anchor="start" fill="#555" >10⁵</text>
<line x1="471.55" y1="68.33" x2="471.15000000000003" y2="69.42999999999999" stroke="#555" stroke-width="0.35" />
<text x="492.6" y="54.6" font-size="5.0" font-weight="bold" font-style="italic" text-anchor="start" fill="#222"  stroke="#222" stroke-width="0.120">B11</text>
<text x="484.2" y="61.6" font-size="5.0" font-weight="bold" font-style="italic" text-anchor="start" fill="#222"  stroke="#222" stroke-width="0.120">2B1</text>
<text x="477.4" y="71.2" font-size="5.0" font-weight="bold" font-style="italic" text-anchor="start" fill="#222"  stroke="#222" stroke-width="0.120">C-</text>
<line x1="435" y1="105" x2="491" y2="119.6" stroke="#ccc" stroke-width="0.45" />
<path d="M435.00,104.99 L435.35,105.08 L435.70,105.16 L436.05,105.25 L436.40,105.34 L436.75,105.43 L437.10,105.52 L437.45,105.60 L437.80,105.69 L438.15,105.77 L438.50,105.86 L438.85,105.94 L439.20,106.03 L439.55,106.11 L439.90,106.19 L440.25,106.27 L440.60,106.35 L440.95,106.43 L441.30,106.50 L441.65,106.58 L442.00,106.65 L442.35,106.72 L442.70,106.79 L443.05,106.85 L443.40,106.92 L443.75,106.98 L444.10,107.04 L444.45,107.09 L444.80,107.15 L445.15,107.20 L445.50,107.24 L445.85,107.29 L446.20,107.32 L446.55,107.36 L446.90,107.38 L447.25,107.41 L447.60,107.43 L447.95,107.44 L448.30,107.44 L448.65,107.44 L449.00,107.43 L449.35,107.41 L449.70,107.39 L450.05,107.35 L450.40,107.31 L450.75,107.25 L451.10,107.19 L451.45,107.11 L451.80,107.02 L452.15,106.91 L452.50,106.79 L452.85,106.66 L453.20,106.51 L453.55,106.35 L453.90,106.17 L454.25,105.97 L454.60,105.75 L454.95,105.51 L455.30,105.24 L455.65,104.93 L456.00,104.59 L456.35,104.19 L456.70,103.72 L457.05,103.17 L457.40,102.51 L457.75,101.71 L458.10,100.76 L458.45,99.61 L458.80,98.25 L459.15,96.65 L459.50,94.82 L459.85,92.74 L460.20,90.46 L460.55,88.02 L460.90,85.47 L461.25,82.91 L461.60,80.45 L461.95,78.18 L462.30,76.22 L462.65,74.68 L463.00,73.68 L463.35,73.26 L463.70,73.40 L464.05,73.98 L464.40,74.98 L464.75,76.35 L465.10,78.01 L465.45,79.91 L465.80,81.95 L466.15,84.07 L466.50,86.20 L466.85,88.27 L467.20,90.23 L467.55,92.05 L467.90,93.70 L468.25,95.17 L468.60,96.46 L468.95,97.57 L469.30,98.52 L469.65,99.33 L470.00,100.02 L470.35,100.61 L470.70,101.13 L471.05,101.59 L471.40,102.02 L471.75,102.43 L472.10,102.83 L472.45,103.24 L472.80,103.66 L473.15,104.10 L473.50,104.55 L473.85,105.02 L474.20,105.51 L474.55,106.01 L474.90,106.53 L475.25,107.06 L475.60,107.59 L475.95,108.13 L476.30,108.67 L476.65,109.21 L477.00,109.74 L477.35,110.27 L477.70,110.79 L478.05,111.29 L478.40,111.78 L478.75,112.25 L479.10,112.71 L479.45,113.15 L479.80,113.56 L480.15,113.96 L480.50,114.34 L480.85,114.69 L481.20,115.03 L481.55,115.35 L481.90,115.64 L482.25,115.92 L482.60,116.18 L482.95,116.43 L483.30,116.66 L483.65,116.87 L484.00,117.07 L484.35,117.26 L484.70,117.44 L485.05,117.60 L485.40,117.76 L485.75,117.91 L486.10,118.05 L486.45,118.18 L486.80,118.31 L487.15,118.43 L487.50,118.55 L487.85,118.67 L488.20,118.78 L488.55,118.88 L488.90,118.99 L489.25,119.09 L489.60,119.19 L489.95,119.29 L490.30,119.39 L490.65,119.49 L491.00,119.58" stroke="#8a8a8a" stroke-width="0.7" fill="none" stroke-linejoin="round" stroke-linecap="round" />
<path d="M425.00,114.00 L425.35,114.09 L425.70,114.19 L426.05,114.28 L426.40,114.37 L426.75,114.46 L427.10,114.56 L427.45,114.65 L427.80,114.74 L428.15,114.83 L428.50,114.92 L428.85,115.01 L429.20,115.09 L429.55,115.18 L429.90,115.26 L430.25,115.34 L430.60,115.42 L430.95,115.49 L431.30,115.56 L431.65,115.63 L432.00,115.68 L432.35,115.74 L432.70,115.78 L433.05,115.82 L433.40,115.85 L433.75,115.87 L434.10,115.87 L434.45,115.87 L434.80,115.85 L435.15,115.82 L435.50,115.78 L435.85,115.73 L436.20,115.66 L436.55,115.57 L436.90,115.47 L437.25,115.36 L437.60,115.23 L437.95,115.07 L438.30,114.88 L438.65,114.66 L439.00,114.37 L439.35,114.00 L439.70,113.51 L440.05,112.86 L440.40,111.98 L440.75,110.83 L441.10,109.34 L441.45,107.48 L441.80,105.23 L442.15,102.58 L442.50,99.62 L442.85,96.44 L443.20,93.21 L443.55,90.13 L443.90,87.48 L444.25,85.48 L444.60,84.33 L444.95,84.13 L445.30,84.96 L445.65,86.84 L446.00,89.60 L446.35,93.02 L446.70,96.83 L447.05,100.76 L447.40,104.56 L447.75,108.04 L448.10,111.08 L448.45,113.61 L448.80,115.65 L449.15,117.23 L449.50,118.41 L449.85,119.27 L450.20,119.88 L450.55,120.31 L450.90,120.63 L451.25,120.85 L451.60,121.02 L451.95,121.16 L452.30,121.28 L452.65,121.39 L453.00,121.49 L453.35,121.59 L453.70,121.69 L454.05,121.78 L454.40,121.87 L454.75,121.97 L455.10,122.06 L455.45,122.16 L455.80,122.25 L456.15,122.34 L456.50,122.44 L456.85,122.53 L457.20,122.62 L457.55,122.72 L457.90,122.81 L458.25,122.91 L458.60,123.00 L458.95,123.09 L459.30,123.19 L459.65,123.28 L460.00,123.37 L460.35,123.47 L460.70,123.56 L461.05,123.66 L461.40,123.75 L461.75,123.84 L462.10,123.94 L462.45,124.03 L462.80,124.12 L463.15,124.22 L463.50,124.31 L463.85,124.41 L464.20,124.50 L464.55,124.59 L464.90,124.69 L465.25,124.78 L465.60,124.88 L465.95,124.97 L466.30,125.06 L466.65,125.16 L467.00,125.25 L467.35,125.34 L467.70,125.44 L468.05,125.53 L468.40,125.62 L468.75,125.72 L469.10,125.81 L469.45,125.91 L469.80,126.00 L470.15,126.09 L470.50,126.19 L470.85,126.28 L471.20,126.38 L471.55,126.47 L471.90,126.56 L472.25,126.66 L472.60,126.75 L472.95,126.84 L473.30,126.94 L473.65,127.03 L474.00,127.12 L474.35,127.22 L474.70,127.31 L475.05,127.41 L475.40,127.50 L475.75,127.59 L476.10,127.69 L476.45,127.78 L476.80,127.88 L477.15,127.97 L477.50,128.06 L477.85,128.16 L478.20,128.25 L478.55,128.34 L478.90,128.44 L479.25,128.53 L479.60,128.62 L479.95,128.72 L480.30,128.81 L480.65,128.91 L481.00,129.00" stroke="#000" stroke-width="1.35" fill="none" stroke-linejoin="round" stroke-linecap="round" />
<text x="431.28" y="119.75" font-size="3.0" font-weight="normal" font-style="italic" text-anchor="start" fill="#555" >0</text>
<line x1="432.28" y1="115.95" x2="431.88" y2="117.05" stroke="#555" stroke-width="0.35" />
<text x="436.32" y="121.1" font-size="3.0" font-weight="normal" font-style="italic" text-anchor="start" fill="#555" >10²</text>
<line x1="437.32" y1="117.3" x2="436.92" y2="118.39999999999999" stroke="#555" stroke-width="0.35" />
<text x="450.88" y="125.0" font-size="3.0" font-weight="normal" font-style="italic" text-anchor="start" fill="#555" >10³</text>
<line x1="451.88" y1="121.2" x2="451.48" y2="122.3" stroke="#555" stroke-width="0.35" />
<text x="464.32" y="128.6" font-size="3.0" font-weight="normal" font-style="italic" text-anchor="start" fill="#555" >10⁴</text>
<line x1="465.32" y1="124.8" x2="464.92" y2="125.89999999999999" stroke="#555" stroke-width="0.35" />
<text x="477.2" y="132.05" font-size="3.0" font-weight="normal" font-style="italic" text-anchor="start" fill="#555" >10⁵</text>
<line x1="478.2" y1="128.25" x2="477.8" y2="129.35" stroke="#555" stroke-width="0.35" />
<text x="491.6" y="121.7" font-size="5.0" font-weight="bold" font-style="italic" text-anchor="start" fill="#222"  stroke="#222" stroke-width="0.120">αeB3</text>
<text x="484.8" y="131.6" font-size="5.0" font-weight="bold" font-style="italic" text-anchor="start" fill="#222"  stroke="#222" stroke-width="0.120">C-</text>
<line x1="36.6" y1="159.6" x2="36.6" y2="236.4" stroke="#000" stroke-width="1.0" />
<line x1="36.2" y1="236" x2="152.4" y2="236" stroke="#000" stroke-width="1.0" />
<line x1="35" y1="233.8" x2="36.6" y2="233.8" stroke="#000" stroke-width="0.7" />
<text x="34.2" y="235.8" font-size="5.6" font-weight="bold" font-style="normal" text-anchor="end" fill="#000"  stroke="#000" stroke-width="0.134">0</text>
<line x1="35" y1="221.48000000000002" x2="36.6" y2="221.48000000000002" stroke="#000" stroke-width="0.7" />
<text x="34.2" y="223.48000000000002" font-size="5.6" font-weight="bold" font-style="normal" text-anchor="end" fill="#000"  stroke="#000" stroke-width="0.134">100</text>
<line x1="35" y1="209.16000000000003" x2="36.6" y2="209.16000000000003" stroke="#000" stroke-width="0.7" />
<text x="34.2" y="211.16000000000003" font-size="5.6" font-weight="bold" font-style="normal" text-anchor="end" fill="#000"  stroke="#000" stroke-width="0.134">200</text>
<line x1="35" y1="196.84" x2="36.6" y2="196.84" stroke="#000" stroke-width="0.7" />
<text x="34.2" y="198.84" font-size="5.6" font-weight="bold" font-style="normal" text-anchor="end" fill="#000"  stroke="#000" stroke-width="0.134">300</text>
<line x1="35" y1="184.52" x2="36.6" y2="184.52" stroke="#000" stroke-width="0.7" />
<text x="34.2" y="186.52" font-size="5.6" font-weight="bold" font-style="normal" text-anchor="end" fill="#000"  stroke="#000" stroke-width="0.134">400</text>
<line x1="35" y1="172.20000000000002" x2="36.6" y2="172.20000000000002" stroke="#000" stroke-width="0.7" />
<text x="34.2" y="174.20000000000002" font-size="5.6" font-weight="bold" font-style="normal" text-anchor="end" fill="#000"  stroke="#000" stroke-width="0.134">500</text>
<line x1="35" y1="159.88" x2="36.6" y2="159.88" stroke="#000" stroke-width="0.7" />
<text x="34.2" y="161.88" font-size="5.6" font-weight="bold" font-style="normal" text-anchor="end" fill="#000"  stroke="#000" stroke-width="0.134">600</text>
<line x1="44.0" y1="236" x2="44.0" y2="237.8" stroke="#000" stroke-width="0.7" />
<text x="44.0" y="244.8" font-size="5.6" font-weight="bold" font-style="normal" text-anchor="middle" fill="#000"  stroke="#000" stroke-width="0.134">0</text>
<line x1="77.80000000000001" y1="236" x2="77.80000000000001" y2="237.8" stroke="#000" stroke-width="0.7" />
<text x="77.80000000000001" y="244.8" font-size="5.6" font-weight="bold" font-style="normal" text-anchor="middle" fill="#000"  stroke="#000" stroke-width="0.134">100</text>
<line x1="111.60000000000001" y1="236" x2="111.60000000000001" y2="237.8" stroke="#000" stroke-width="0.7" />
<text x="111.60000000000001" y="244.8" font-size="5.6" font-weight="bold" font-style="normal" text-anchor="middle" fill="#000"  stroke="#000" stroke-width="0.134">200</text>
<line x1="145.4" y1="236" x2="145.4" y2="237.8" stroke="#000" stroke-width="0.7" />
<text x="145.4" y="244.8" font-size="5.6" font-weight="bold" font-style="normal" text-anchor="middle" fill="#000"  stroke="#000" stroke-width="0.134">300</text>
<text x="95" y="253.6" font-size="6.2" font-weight="bold" font-style="normal" text-anchor="middle" fill="#000"  stroke="#000" stroke-width="0.149">Time (s)</text>
<text transform="translate(21,198.5) rotate(-90)" font-size="6.2" font-weight="bold" text-anchor="middle">Response (RU)</text>
<path d="M36.60,233.80 L44.00,233.80 L44.00,233.80 L44.68,229.90 L45.35,226.24 L46.03,222.80 L46.70,219.58 L47.38,216.56 L48.06,213.73 L48.73,211.07 L49.41,208.57 L50.08,206.24 L50.76,204.04 L51.44,201.98 L52.11,200.05 L52.79,198.24 L53.46,196.54 L54.14,194.95 L54.82,193.46 L55.49,192.06 L56.17,190.74 L56.84,189.51 L57.52,188.35 L58.20,187.27 L58.87,186.25 L59.55,185.29 L60.22,184.40 L60.90,183.56 L61.58,182.77 L62.25,182.03 L62.93,181.34 L63.60,180.69 L64.28,180.08 L64.96,179.50 L65.63,178.97 L66.31,178.46 L66.98,177.99 L67.66,177.55 L68.34,177.13 L69.01,176.74 L69.69,176.38 L70.36,176.04 L71.04,175.71 L71.72,175.41 L72.39,175.13 L73.07,174.86 L73.74,174.61 L74.42,174.38 L75.10,174.16 L75.77,173.96 L76.45,173.76 L77.12,173.58 L77.80,173.41 L78.48,173.25 L79.15,173.10 L79.83,172.96 L80.50,172.83 L81.18,172.71 L81.86,172.59 L82.53,172.49 L83.21,172.38 L83.88,172.29 L84.56,172.20 L84.56,172.20 L85.91,174.12 L87.26,175.97 L88.62,177.77 L89.97,179.51 L91.32,181.20 L92.67,182.84 L94.02,184.42 L95.38,185.96 L96.73,187.45 L98.08,188.89 L99.43,190.29 L100.78,191.64 L102.14,192.95 L103.49,194.22 L104.84,195.45 L106.19,196.64 L107.54,197.80 L108.90,198.92 L110.25,200.01 L111.60,201.06 L112.95,202.07 L114.30,203.06 L115.66,204.02 L117.01,204.94 L118.36,205.84 L119.71,206.71 L121.06,207.55 L122.42,208.37 L123.77,209.16 L125.12,209.93 L126.47,210.67 L127.82,211.39 L129.18,212.09 L130.53,212.76 L131.88,213.42 L133.23,214.05 L134.58,214.66 L135.94,215.26 L137.29,215.84 L138.64,216.39 L139.99,216.94 L141.34,217.46 L142.70,217.97 L144.05,218.46 L145.40,218.94 L146.75,219.40 L148.10,219.85 L149.46,220.28 L150.81,220.70 L152.16,221.11" stroke="#111" stroke-width="1.3" fill="none" stroke-linejoin="round" stroke-linecap="round" />
<path d="M36.60,233.80 L44.00,233.80 L44.00,233.80 L44.68,232.00 L45.35,230.26 L46.03,228.58 L46.70,226.96 L47.38,225.40 L48.06,223.90 L48.73,222.45 L49.41,221.05 L50.08,219.69 L50.76,218.39 L51.44,217.13 L52.11,215.92 L52.79,214.75 L53.46,213.62 L54.14,212.53 L54.82,211.48 L55.49,210.47 L56.17,209.49 L56.84,208.55 L57.52,207.64 L58.20,206.76 L58.87,205.92 L59.55,205.10 L60.22,204.31 L60.90,203.55 L61.58,202.82 L62.25,202.11 L62.93,201.43 L63.60,200.77 L64.28,200.14 L64.96,199.53 L65.63,198.94 L66.31,198.37 L66.98,197.82 L67.66,197.29 L68.34,196.78 L69.01,196.28 L69.69,195.81 L70.36,195.35 L71.04,194.91 L71.72,194.48 L72.39,194.07 L73.07,193.67 L73.74,193.29 L74.42,192.92 L75.10,192.56 L75.77,192.22 L76.45,191.88 L77.12,191.56 L77.80,191.26 L78.48,190.96 L79.15,190.67 L79.83,190.39 L80.50,190.13 L81.18,189.87 L81.86,189.62 L82.53,189.38 L83.21,189.15 L83.88,188.92 L84.56,188.71 L84.56,188.71 L85.91,190.10 L87.26,191.46 L88.62,192.77 L89.97,194.04 L91.32,195.27 L92.67,196.46 L94.02,197.62 L95.38,198.74 L96.73,199.82 L98.08,200.87 L99.43,201.89 L100.78,202.88 L102.14,203.84 L103.49,204.76 L104.84,205.66 L106.19,206.53 L107.54,207.38 L108.90,208.19 L110.25,208.99 L111.60,209.75 L112.95,210.50 L114.30,211.22 L115.66,211.92 L117.01,212.60 L118.36,213.25 L119.71,213.89 L121.06,214.50 L122.42,215.10 L123.77,215.68 L125.12,216.24 L126.47,216.78 L127.82,217.31 L129.18,217.82 L130.53,218.32 L131.88,218.80 L133.23,219.26 L134.58,219.71 L135.94,220.15 L137.29,220.57 L138.64,220.98 L139.99,221.37 L141.34,221.76 L142.70,222.13 L144.05,222.49 L145.40,222.84 L146.75,223.18 L148.10,223.51 L149.46,223.83 L150.81,224.14 L152.16,224.44" stroke="#2a2a2a" stroke-width="1.1" fill="none" stroke-linejoin="round" stroke-linecap="round" />
<path d="M36.60,233.80 L44.00,233.80 L44.00,233.80 L44.68,232.93 L45.35,232.07 L46.03,231.23 L46.70,230.42 L47.38,229.61 L48.06,228.83 L48.73,228.07 L49.41,227.32 L50.08,226.58 L50.76,225.87 L51.44,225.16 L52.11,224.48 L52.79,223.81 L53.46,223.15 L54.14,222.51 L54.82,221.88 L55.49,221.26 L56.17,220.66 L56.84,220.07 L57.52,219.50 L58.20,218.94 L58.87,218.38 L59.55,217.85 L60.22,217.32 L60.90,216.80 L61.58,216.30 L62.25,215.80 L62.93,215.32 L63.60,214.85 L64.28,214.39 L64.96,213.94 L65.63,213.49 L66.31,213.06 L66.98,212.64 L67.66,212.23 L68.34,211.82 L69.01,211.42 L69.69,211.04 L70.36,210.66 L71.04,210.29 L71.72,209.92 L72.39,209.57 L73.07,209.22 L73.74,208.88 L74.42,208.55 L75.10,208.23 L75.77,207.91 L76.45,207.60 L77.12,207.29 L77.80,207.00 L78.48,206.71 L79.15,206.42 L79.83,206.14 L80.50,205.87 L81.18,205.60 L81.86,205.34 L82.53,205.09 L83.21,204.84 L83.88,204.59 L84.56,204.36 L84.56,204.36 L85.91,205.26 L87.26,206.14 L88.62,206.99 L89.97,207.82 L91.32,208.62 L92.67,209.40 L94.02,210.15 L95.38,210.88 L96.73,211.58 L98.08,212.27 L99.43,212.93 L100.78,213.57 L102.14,214.20 L103.49,214.80 L104.84,215.38 L106.19,215.95 L107.54,216.50 L108.90,217.03 L110.25,217.55 L111.60,218.05 L112.95,218.54 L114.30,219.01 L115.66,219.46 L117.01,219.90 L118.36,220.33 L119.71,220.75 L121.06,221.15 L122.42,221.54 L123.77,221.92 L125.12,222.28 L126.47,222.64 L127.82,222.98 L129.18,223.31 L130.53,223.64 L131.88,223.95 L133.23,224.25 L134.58,224.55 L135.94,224.83 L137.29,225.11 L138.64,225.38 L139.99,225.64 L141.34,225.89 L142.70,226.13 L144.05,226.37 L145.40,226.60 L146.75,226.82 L148.10,227.03 L149.46,227.24 L150.81,227.44 L152.16,227.64" stroke="#8c8c8c" stroke-width="1.1" fill="none" stroke-linejoin="round" stroke-linecap="round" />
<path d="M36.60,233.80 L44.00,233.80 L44.00,233.80 L44.68,233.41 L45.35,233.03 L46.03,232.65 L46.70,232.27 L47.38,231.90 L48.06,231.53 L48.73,231.17 L49.41,230.81 L50.08,230.46 L50.76,230.11 L51.44,229.76 L52.11,229.42 L52.79,229.08 L53.46,228.75 L54.14,228.42 L54.82,228.10 L55.49,227.78 L56.17,227.46 L56.84,227.14 L57.52,226.83 L58.20,226.53 L58.87,226.23 L59.55,225.93 L60.22,225.63 L60.90,225.34 L61.58,225.05 L62.25,224.77 L62.93,224.48 L63.60,224.21 L64.28,223.93 L64.96,223.66 L65.63,223.39 L66.31,223.13 L66.98,222.86 L67.66,222.60 L68.34,222.35 L69.01,222.10 L69.69,221.85 L70.36,221.60 L71.04,221.36 L71.72,221.11 L72.39,220.88 L73.07,220.64 L73.74,220.41 L74.42,220.18 L75.10,219.95 L75.77,219.73 L76.45,219.51 L77.12,219.29 L77.80,219.07 L78.48,218.86 L79.15,218.65 L79.83,218.44 L80.50,218.23 L81.18,218.03 L81.86,217.83 L82.53,217.63 L83.21,217.43 L83.88,217.24 L84.56,217.04 L84.56,217.04 L85.91,217.57 L87.26,218.07 L88.62,218.56 L89.97,219.03 L91.32,219.49 L92.67,219.94 L94.02,220.37 L95.38,220.79 L96.73,221.19 L98.08,221.59 L99.43,221.97 L100.78,222.33 L102.14,222.69 L103.49,223.04 L104.84,223.37 L106.19,223.70 L107.54,224.01 L108.90,224.31 L110.25,224.61 L111.60,224.90 L112.95,225.17 L114.30,225.44 L115.66,225.70 L117.01,225.95 L118.36,226.20 L119.71,226.43 L121.06,226.66 L122.42,226.89 L123.77,227.10 L125.12,227.31 L126.47,227.51 L127.82,227.71 L129.18,227.90 L130.53,228.08 L131.88,228.26 L133.23,228.43 L134.58,228.60 L135.94,228.76 L137.29,228.92 L138.64,229.07 L139.99,229.22 L141.34,229.36 L142.70,229.50 L144.05,229.63 L145.40,229.76 L146.75,229.89 L148.10,230.01 L149.46,230.13 L150.81,230.24 L152.16,230.35" stroke="#2a2a2a" stroke-width="1.1" fill="none" stroke-linejoin="round" stroke-linecap="round" />
<text x="155.8" y="220" font-size="5.7" font-weight="normal" font-style="normal" text-anchor="start" fill="#111" >0.4 µM</text>
<text x="155.8" y="225.8" font-size="5.7" font-weight="normal" font-style="normal" text-anchor="start" fill="#111" >0.2</text>
<text x="155.8" y="231.4" font-size="5.7" font-weight="normal" font-style="normal" text-anchor="start" fill="#111" >0.1</text>
<text x="155.8" y="237" font-size="5.7" font-weight="normal" font-style="normal" text-anchor="start" fill="#111" >0.05</text>
<text x="144" y="173.6" font-size="7.5" font-weight="bold" font-style="italic" text-anchor="middle" fill="#000"  stroke="#000" stroke-width="0.180">B11</text>
<line x1="136.8" y1="174.4" x2="151.2" y2="174.4" stroke="#000" stroke-width="0.6" />
<rect x="120.4" y="175.5" width="41.6" height="12.5" fill="none" stroke="#000" stroke-width="0.8" />
<text x="122.9" y="184.4" font-size="7.4" font-weight="bold" textLength="36.6" lengthAdjust="spacingAndGlyphs">K<tspan font-size="4.8" dy="1.2">D</tspan><tspan dy="-1.2">=110 nM</tspan></text>
<line x1="206.6" y1="159.6" x2="206.6" y2="236.8" stroke="#000" stroke-width="1.0" />
<line x1="206.2" y1="236.4" x2="321.6" y2="236.4" stroke="#000" stroke-width="1.0" />
<line x1="205" y1="231.8" x2="206.6" y2="231.8" stroke="#000" stroke-width="0.7" />
<text x="204.2" y="233.8" font-size="5.6" font-weight="bold" font-style="normal" text-anchor="end" fill="#000"  stroke="#000" stroke-width="0.134">0</text>
<line x1="205" y1="207.85000000000002" x2="206.6" y2="207.85000000000002" stroke="#000" stroke-width="0.7" />
<text x="204.2" y="209.85000000000002" font-size="5.6" font-weight="bold" font-style="normal" text-anchor="end" fill="#000"  stroke="#000" stroke-width="0.134">50</text>
<line x1="205" y1="183.9" x2="206.6" y2="183.9" stroke="#000" stroke-width="0.7" />
<text x="204.2" y="185.9" font-size="5.6" font-weight="bold" font-style="normal" text-anchor="end" fill="#000"  stroke="#000" stroke-width="0.134">100</text>
<line x1="205" y1="159.95000000000002" x2="206.6" y2="159.95000000000002" stroke="#000" stroke-width="0.7" />
<text x="204.2" y="161.95000000000002" font-size="5.6" font-weight="bold" font-style="normal" text-anchor="end" fill="#000"  stroke="#000" stroke-width="0.134">150</text>
<line x1="213.6" y1="236.4" x2="213.6" y2="238.2" stroke="#000" stroke-width="0.7" />
<text x="213.6" y="244.8" font-size="5.6" font-weight="bold" font-style="normal" text-anchor="middle" fill="#000"  stroke="#000" stroke-width="0.134">0</text>
<line x1="247.6" y1="236.4" x2="247.6" y2="238.2" stroke="#000" stroke-width="0.7" />
<text x="247.6" y="244.8" font-size="5.6" font-weight="bold" font-style="normal" text-anchor="middle" fill="#000"  stroke="#000" stroke-width="0.134">100</text>
<line x1="281.6" y1="236.4" x2="281.6" y2="238.2" stroke="#000" stroke-width="0.7" />
<text x="281.6" y="244.8" font-size="5.6" font-weight="bold" font-style="normal" text-anchor="middle" fill="#000"  stroke="#000" stroke-width="0.134">200</text>
<line x1="315.6" y1="236.4" x2="315.6" y2="238.2" stroke="#000" stroke-width="0.7" />
<text x="315.6" y="244.8" font-size="5.6" font-weight="bold" font-style="normal" text-anchor="middle" fill="#000"  stroke="#000" stroke-width="0.134">300</text>
<text x="264" y="253.6" font-size="6.2" font-weight="bold" font-style="normal" text-anchor="middle" fill="#000"  stroke="#000" stroke-width="0.149">Time (s)</text>
<text transform="translate(190.4,199) rotate(-90)" font-size="6.2" font-weight="bold" text-anchor="middle">Response (RU)</text>
<path d="M206.60,231.80 L213.26,231.80 L213.60,180.69 L213.60,179.11 L214.62,178.66 L215.64,178.25 L216.66,177.88 L217.68,177.53 L218.70,177.21 L219.72,176.92 L220.74,176.65 L221.76,176.41 L222.78,176.18 L223.80,175.98 L224.82,175.79 L225.84,175.61 L226.86,175.45 L227.88,175.30 L228.90,175.17 L229.92,175.05 L230.94,174.93 L231.96,174.83 L232.98,174.73 L234.00,174.65 L235.02,174.56 L236.04,174.49 L237.06,174.42 L238.08,174.36 L239.10,174.30 L240.12,174.25 L241.14,174.20 L242.16,174.16 L243.18,174.12 L244.20,174.08 L245.22,174.05 L246.24,174.02 L247.26,173.99 L248.28,173.96 L249.30,173.94 L250.32,173.91 L251.34,173.89 L252.36,173.87 L253.38,173.86 L254.40,173.84 L254.74,226.53 L254.74,226.53 L258.14,226.68 L261.54,226.82 L264.94,226.97 L268.34,227.11 L271.74,227.26 L275.14,227.40 L278.54,227.55 L281.94,227.69 L285.34,227.84 L288.74,227.98 L292.14,228.12 L295.54,228.27 L298.94,228.41 L302.34,228.56 L305.74,228.70 L309.14,228.85 L312.54,228.99 L315.94,229.14 L319.34,229.28 L321.72,229.43" stroke="#111" stroke-width="1.1" fill="none" stroke-linejoin="round" stroke-linecap="round" />
<path d="M206.60,231.80 L213.26,231.80 L213.60,191.14 L213.60,189.89 L214.62,189.50 L215.64,189.15 L216.66,188.82 L217.68,188.52 L218.70,188.25 L219.72,188.00 L220.74,187.77 L221.76,187.55 L222.78,187.36 L223.80,187.18 L224.82,187.02 L225.84,186.87 L226.86,186.73 L227.88,186.60 L228.90,186.48 L229.92,186.38 L230.94,186.28 L231.96,186.19 L232.98,186.11 L234.00,186.03 L235.02,185.96 L236.04,185.90 L237.06,185.84 L238.08,185.79 L239.10,185.74 L240.12,185.69 L241.14,185.65 L242.16,185.61 L243.18,185.58 L244.20,185.54 L245.22,185.51 L246.24,185.49 L247.26,185.46 L248.28,185.44 L249.30,185.42 L250.32,185.40 L251.34,185.38 L252.36,185.37 L253.38,185.35 L254.40,185.34 L254.74,226.87 L254.74,226.87 L258.14,227.00 L261.54,227.14 L264.94,227.27 L268.34,227.41 L271.74,227.54 L275.14,227.68 L278.54,227.82 L281.94,227.95 L285.34,228.09 L288.74,228.22 L292.14,228.36 L295.54,228.49 L298.94,228.63 L302.34,228.77 L305.74,228.90 L309.14,229.04 L312.54,229.17 L315.94,229.31 L319.34,229.44 L321.72,229.58" stroke="#2a2a2a" stroke-width="1.0" fill="none" stroke-linejoin="round" stroke-linecap="round" />
<path d="M206.60,231.80 L213.26,231.80 L213.60,197.88 L213.60,196.83 L214.62,196.51 L215.64,196.21 L216.66,195.93 L217.68,195.68 L218.70,195.45 L219.72,195.24 L220.74,195.05 L221.76,194.87 L222.78,194.70 L223.80,194.55 L224.82,194.42 L225.84,194.29 L226.86,194.17 L227.88,194.07 L228.90,193.97 L229.92,193.88 L230.94,193.79 L231.96,193.72 L232.98,193.65 L234.00,193.59 L235.02,193.53 L236.04,193.47 L237.06,193.42 L238.08,193.38 L239.10,193.34 L240.12,193.30 L241.14,193.26 L242.16,193.23 L243.18,193.20 L244.20,193.18 L245.22,193.15 L246.24,193.13 L247.26,193.11 L248.28,193.09 L249.30,193.07 L250.32,193.05 L251.34,193.04 L252.36,193.03 L253.38,193.01 L254.40,193.00 L254.74,227.20 L254.74,227.20 L258.14,227.33 L261.54,227.45 L264.94,227.58 L268.34,227.71 L271.74,227.83 L275.14,227.96 L278.54,228.09 L281.94,228.21 L285.34,228.34 L288.74,228.47 L292.14,228.59 L295.54,228.72 L298.94,228.85 L302.34,228.97 L305.74,229.10 L309.14,229.22 L312.54,229.35 L315.94,229.48 L319.34,229.60 L321.72,229.73" stroke="#8c8c8c" stroke-width="1.0" fill="none" stroke-linejoin="round" stroke-linecap="round" />
<path d="M206.60,231.80 L213.26,231.80 L213.60,207.17 L213.60,206.41 L214.62,206.13 L215.64,205.87 L216.66,205.63 L217.68,205.41 L218.70,205.21 L219.72,205.02 L220.74,204.85 L221.76,204.69 L222.78,204.55 L223.80,204.42 L224.82,204.30 L225.84,204.19 L226.86,204.08 L227.88,203.99 L228.90,203.91 L229.92,203.83 L230.94,203.75 L231.96,203.69 L232.98,203.63 L234.00,203.57 L235.02,203.52 L236.04,203.47 L237.06,203.43 L238.08,203.39 L239.10,203.35 L240.12,203.32 L241.14,203.29 L242.16,203.26 L243.18,203.24 L244.20,203.21 L245.22,203.19 L246.24,203.17 L247.26,203.15 L248.28,203.14 L249.30,203.12 L250.32,203.11 L251.34,203.09 L252.36,203.08 L253.38,203.07 L254.40,203.06 L254.74,227.49 L254.74,227.49 L258.14,227.61 L261.54,227.73 L264.94,227.84 L268.34,227.96 L271.74,228.08 L275.14,228.20 L278.54,228.32 L281.94,228.44 L285.34,228.56 L288.74,228.67 L292.14,228.79 L295.54,228.91 L298.94,229.03 L302.34,229.15 L305.74,229.27 L309.14,229.39 L312.54,229.50 L315.94,229.62 L319.34,229.74 L321.72,229.86" stroke="#2a2a2a" stroke-width="1.0" fill="none" stroke-linejoin="round" stroke-linecap="round" />
<text x="257.6" y="177" font-size="5.5" font-weight="normal" font-style="normal" text-anchor="start" fill="#111" >30 µM</text>
<text x="257.6" y="186" font-size="5.5" font-weight="normal" font-style="normal" text-anchor="start" fill="#111" >20</text>
<text x="257.6" y="195" font-size="5.5" font-weight="normal" font-style="normal" text-anchor="start" fill="#111" >10</text>
<text x="257.6" y="203.6" font-size="5.5" font-weight="normal" font-style="normal" text-anchor="start" fill="#111" >7.5</text>
<text x="303.2" y="173.6" font-size="7.5" font-weight="bold" font-style="italic" text-anchor="middle" fill="#000"  stroke="#000" stroke-width="0.180">2B1</text>
<line x1="296.2" y1="174.4" x2="310.2" y2="174.4" stroke="#000" stroke-width="0.6" />
<rect x="280.4" y="175.5" width="41.2" height="12.5" fill="none" stroke="#000" stroke-width="0.8" />
<text x="283.3" y="184.4" font-size="7.4" font-weight="bold" textLength="36.6" lengthAdjust="spacingAndGlyphs">K<tspan font-size="4.8" dy="1.2">D</tspan><tspan dy="-1.2">=630 nM</tspan></text>
<rect x="383" y="158.6" width="127.4" height="85" fill="none" stroke="#000" stroke-width="0.95" />
<line x1="381.4" y1="237.4" x2="383" y2="237.4" stroke="#000" stroke-width="0.7" />
<text x="380.4" y="239.5" font-size="5.9" font-weight="bold" font-style="normal" text-anchor="end" fill="#000"  stroke="#000" stroke-width="0.142">0</text>
<line x1="381.4" y1="224.8" x2="383" y2="224.8" stroke="#000" stroke-width="0.7" />
<text x="380.4" y="226.9" font-size="5.9" font-weight="bold" font-style="normal" text-anchor="end" fill="#000"  stroke="#000" stroke-width="0.142">20</text>
<line x1="381.4" y1="212.20000000000002" x2="383" y2="212.20000000000002" stroke="#000" stroke-width="0.7" />
<text x="380.4" y="214.3" font-size="5.9" font-weight="bold" font-style="normal" text-anchor="end" fill="#000"  stroke="#000" stroke-width="0.142">40</text>
<line x1="381.4" y1="199.60000000000002" x2="383" y2="199.60000000000002" stroke="#000" stroke-width="0.7" />
<text x="380.4" y="201.70000000000002" font-size="5.9" font-weight="bold" font-style="normal" text-anchor="end" fill="#000"  stroke="#000" stroke-width="0.142">60</text>
<line x1="381.4" y1="187.0" x2="383" y2="187.0" stroke="#000" stroke-width="0.7" />
<text x="380.4" y="189.1" font-size="5.9" font-weight="bold" font-style="normal" text-anchor="end" fill="#000"  stroke="#000" stroke-width="0.142">80</text>
<line x1="381.4" y1="174.4" x2="383" y2="174.4" stroke="#000" stroke-width="0.7" />
<text x="380.4" y="176.5" font-size="5.9" font-weight="bold" font-style="normal" text-anchor="end" fill="#000"  stroke="#000" stroke-width="0.142">100</text>
<line x1="381.4" y1="161.8" x2="383" y2="161.8" stroke="#000" stroke-width="0.7" />
<text x="380.4" y="163.9" font-size="5.9" font-weight="bold" font-style="normal" text-anchor="end" fill="#000"  stroke="#000" stroke-width="0.142">120</text>
<line x1="383.3" y1="243.6" x2="383.3" y2="245.4" stroke="#000" stroke-width="0.7" />
<text x="382.40000000000003" y="253" font-size="5.9" font-weight="bold" font-style="normal" text-anchor="middle" fill="#000"  stroke="#000" stroke-width="0.142">-2</text>
<line x1="415.15" y1="243.6" x2="415.15" y2="245.4" stroke="#000" stroke-width="0.7" />
<text x="414.25" y="253" font-size="5.9" font-weight="bold" font-style="normal" text-anchor="middle" fill="#000"  stroke="#000" stroke-width="0.142">-1</text>
<line x1="447.0" y1="243.6" x2="447.0" y2="245.4" stroke="#000" stroke-width="0.7" />
<text x="447.0" y="253" font-size="5.9" font-weight="bold" font-style="normal" text-anchor="middle" fill="#000"  stroke="#000" stroke-width="0.142">0</text>
<line x1="478.85" y1="243.6" x2="478.85" y2="245.4" stroke="#000" stroke-width="0.7" />
<text x="478.85" y="253" font-size="5.9" font-weight="bold" font-style="normal" text-anchor="middle" fill="#000"  stroke="#000" stroke-width="0.142">1</text>
<line x1="510.7" y1="243.6" x2="510.7" y2="245.4" stroke="#000" stroke-width="0.7" />
<text x="510.7" y="253" font-size="5.9" font-weight="bold" font-style="normal" text-anchor="middle" fill="#000"  stroke="#000" stroke-width="0.142">2</text>
<text x="447" y="264" font-size="7.0" font-weight="bold" font-style="normal" text-anchor="middle" fill="#000"  stroke="#000" stroke-width="0.168">Log[scFv](µM)</text>
<text transform="translate(366.2,201.5) rotate(-90)" font-size="6.3" stroke="#000" stroke-width="0.15" font-weight="bold" text-anchor="middle">EphrinB2 binding to EphB4 (%)</text>
<path d="M402.41,176.46 L403.27,176.44 L404.13,176.41 L404.99,176.38 L405.85,176.35 L406.71,176.32 L407.57,176.29 L408.43,176.26 L409.29,176.22 L410.15,176.18 L411.01,176.14 L411.87,176.10 L412.73,176.06 L413.59,176.01 L414.45,175.97 L415.31,175.92 L416.17,175.86 L417.03,175.81 L417.89,175.75 L418.75,175.69 L419.61,175.63 L420.47,175.57 L421.33,175.50 L422.19,175.43 L423.05,175.36 L423.91,175.28 L424.77,175.20 L425.63,175.12 L426.49,175.03 L427.35,174.94 L428.21,174.85 L429.07,174.76 L429.93,174.66 L430.79,174.56 L431.65,174.45 L432.51,174.34 L433.37,174.23 L434.23,174.12 L435.09,174.00 L435.95,173.88 L436.81,173.76 L437.67,173.63 L438.53,173.50 L439.39,173.37 L440.25,173.24 L441.11,173.10 L441.97,172.96 L442.83,172.82 L443.69,172.68 L444.55,172.54 L445.41,172.39 L446.27,172.24 L447.13,172.10 L447.99,171.95 L448.85,171.80 L449.71,171.65 L450.57,171.50 L451.43,171.35 L452.29,171.20 L453.15,171.05 L454.01,170.90 L454.87,170.76 L455.73,170.61 L456.59,170.47 L457.45,170.32 L458.31,170.18 L459.17,170.04 L460.03,169.91 L460.89,169.77 L461.75,169.64 L462.61,169.51 L463.47,169.39 L464.33,169.26 L465.19,169.14 L466.05,169.02 L466.91,168.91 L467.77,168.80 L468.63,168.69 L469.49,168.58 L470.35,168.48 L471.21,168.38 L472.07,168.29 L472.93,168.20 L473.79,168.11 L474.65,168.02 L475.51,167.94 L476.37,167.86 L477.23,167.78 L478.09,167.71 L478.95,167.64 L479.81,167.57 L480.67,167.51 L481.53,167.44 L482.39,167.38 L483.25,167.33 L484.11,167.27 L484.97,167.22 L485.83,167.17 L486.69,167.12 L487.55,167.08 L488.41,167.03" stroke="#111" stroke-width="1.2" fill="none" stroke-linejoin="round" stroke-linecap="round" />
<path d="M402.41,190.03 L403.27,190.52 L404.13,191.03 L404.99,191.57 L405.85,192.12 L406.71,192.70 L407.57,193.30 L408.43,193.91 L409.29,194.55 L410.15,195.21 L411.01,195.89 L411.87,196.59 L412.73,197.30 L413.59,198.04 L414.45,198.79 L415.31,199.56 L416.17,200.35 L417.03,201.15 L417.89,201.96 L418.75,202.79 L419.61,203.63 L420.47,204.48 L421.33,205.33 L422.19,206.19 L423.05,207.06 L423.91,207.93 L424.77,208.80 L425.63,209.67 L426.49,210.54 L427.35,211.41 L428.21,212.27 L429.07,213.12 L429.93,213.97 L430.79,214.80 L431.65,215.63 L432.51,216.44 L433.37,217.24 L434.23,218.02 L435.09,218.79 L435.95,219.54 L436.81,220.27 L437.67,220.99 L438.53,221.68 L439.39,222.36 L440.25,223.01 L441.11,223.65 L441.97,224.26 L442.83,224.86 L443.69,225.43 L444.55,225.98 L445.41,226.51 L446.27,227.02 L447.13,227.51 L447.99,227.99 L448.85,228.44 L449.71,228.87 L450.57,229.28 L451.43,229.67 L452.29,230.05 L453.15,230.41 L454.01,230.75 L454.87,231.08 L455.73,231.39 L456.59,231.68 L457.45,231.96 L458.31,232.23 L459.17,232.48 L460.03,232.72 L460.89,232.95 L461.75,233.17 L462.61,233.37 L463.47,233.56 L464.33,233.75 L465.19,233.92 L466.05,234.08 L466.91,234.24 L467.77,234.38 L468.63,234.52 L469.49,234.65 L470.35,234.77 L471.21,234.89 L472.07,235.00 L472.93,235.10 L473.79,235.20 L474.65,235.29 L475.51,235.38 L476.37,235.46 L477.23,235.54 L478.09,235.61 L478.95,235.68 L479.81,235.75 L480.67,235.81 L481.53,235.86 L482.39,235.92 L483.25,235.97 L484.11,236.02 L484.97,236.06 L485.83,236.10 L486.69,236.14 L487.55,236.18 L488.41,236.21" stroke="#000" stroke-width="1.5" fill="none" stroke-linejoin="round" stroke-linecap="round" />
<circle cx="402.41" cy="176.61" r="1.5" fill="#fff" stroke="#111" stroke-width="0.7"/>
<circle cx="411.96" cy="175.98" r="1.5" fill="#fff" stroke="#111" stroke-width="0.7"/>
<circle cx="421.52" cy="175.66" r="1.5" fill="#fff" stroke="#111" stroke-width="0.7"/>
<circle cx="431.07" cy="175.98" r="1.5" fill="#fff" stroke="#111" stroke-width="0.7"/>
<line x1="440.63" y1="176.29000000000002" x2="440.63" y2="172.51" stroke="#000" stroke-width="0.7" />
<line x1="439.03" y1="176.29000000000002" x2="442.23" y2="176.29000000000002" stroke="#000" stroke-width="0.7" />
<line x1="439.03" y1="172.51" x2="442.23" y2="172.51" stroke="#000" stroke-width="0.7" />
<circle cx="440.63" cy="174.40" r="1.5" fill="#fff" stroke="#111" stroke-width="0.7"/>
<line x1="450.185" y1="171.88" x2="450.185" y2="169.36" stroke="#000" stroke-width="0.7" />
<line x1="448.585" y1="171.88" x2="451.785" y2="171.88" stroke="#000" stroke-width="0.7" />
<line x1="448.585" y1="169.36" x2="451.785" y2="169.36" stroke="#000" stroke-width="0.7" />
<circle cx="450.19" cy="170.62" r="1.5" fill="#fff" stroke="#111" stroke-width="0.7"/>
<line x1="459.74" y1="171.88" x2="459.74" y2="164.32" stroke="#000" stroke-width="0.7" />
<line x1="458.14" y1="171.88" x2="461.34000000000003" y2="171.88" stroke="#000" stroke-width="0.7" />
<line x1="458.14" y1="164.32" x2="461.34000000000003" y2="164.32" stroke="#000" stroke-width="0.7" />
<circle cx="459.74" cy="168.10" r="1.5" fill="#fff" stroke="#111" stroke-width="0.7"/>
<circle cx="469.30" cy="171.00" r="1.5" fill="#fff" stroke="#111" stroke-width="0.7"/>
<circle cx="478.85" cy="168.10" r="1.5" fill="#fff" stroke="#111" stroke-width="0.7"/>
<circle cx="488.40" cy="164.95" r="1.5" fill="#fff" stroke="#111" stroke-width="0.7"/>
<circle cx="402.41" cy="190.78" r="1.75" fill="#000"/>
<line x1="411.965" y1="200.608" x2="411.965" y2="193.048" stroke="#000" stroke-width="0.7" />
<line x1="410.36499999999995" y1="200.608" x2="413.565" y2="200.608" stroke="#000" stroke-width="0.7" />
<line x1="410.36499999999995" y1="193.048" x2="413.565" y2="193.048" stroke="#000" stroke-width="0.7" />
<circle cx="411.96" cy="196.83" r="1.75" fill="#000"/>
<line x1="421.52" y1="208.735" x2="421.52" y2="201.175" stroke="#000" stroke-width="0.7" />
<line x1="419.91999999999996" y1="208.735" x2="423.12" y2="208.735" stroke="#000" stroke-width="0.7" />
<line x1="419.91999999999996" y1="201.175" x2="423.12" y2="201.175" stroke="#000" stroke-width="0.7" />
<circle cx="421.52" cy="204.96" r="1.75" fill="#000"/>
<line x1="431.075" y1="217.87" x2="431.075" y2="210.31" stroke="#000" stroke-width="0.7" />
<line x1="429.47499999999997" y1="217.87" x2="432.675" y2="217.87" stroke="#000" stroke-width="0.7" />
<line x1="429.47499999999997" y1="210.31" x2="432.675" y2="210.31" stroke="#000" stroke-width="0.7" />
<circle cx="431.07" cy="214.09" r="1.75" fill="#000"/>
<circle cx="440.63" cy="215.98" r="1.75" fill="#000"/>
<circle cx="450.19" cy="227.32" r="1.75" fill="#000"/>
<circle cx="459.74" cy="231.73" r="1.75" fill="#000"/>
<circle cx="469.30" cy="235.51" r="1.75" fill="#000"/>
<circle cx="478.85" cy="237.40" r="1.75" fill="#000"/>
<circle cx="488.40" cy="234.88" r="1.75" fill="#000"/>
<circle cx="489" cy="199" r="1.4" fill="#000"/>
<text x="492.2" y="201.2" font-size="6.6" font-weight="bold" font-style="italic" text-anchor="start" fill="#000"  stroke="#000" stroke-width="0.158">B11</text>
<circle cx="489" cy="207" r="1.45" fill="#fff" stroke="#111" stroke-width="0.75"/>
<text x="492.2" y="209.2" font-size="6.6" font-weight="bold" font-style="italic" text-anchor="start" fill="#000"  stroke="#000" stroke-width="0.158">2B1</text>
<rect x="61" y="286.4" width="118.6" height="21.8" fill="#dadada" stroke="#333" stroke-width="0.7" />
<line x1="60.7" y1="286.4" x2="179.9" y2="286.4" stroke="#111" stroke-width="1.1" />
<line x1="60.7" y1="308.2" x2="179.9" y2="308.2" stroke="#111" stroke-width="1.1" />
<rect x="61" y="311.2" width="118.6" height="22.2" fill="#d2d2d2" stroke="#333" stroke-width="0.7" />
<line x1="60.7" y1="311.2" x2="179.9" y2="311.2" stroke="#111" stroke-width="1.1" />
<line x1="60.7" y1="333.4" x2="179.9" y2="333.4" stroke="#111" stroke-width="1.1" />
<text x="56" y="292.0" font-size="5.0" font-weight="normal" font-style="italic" text-anchor="end" fill="#000" stroke="#000" stroke-width="0.12">160</text>
<line x1="57.8" y1="290.2" x2="60.8" y2="290.2" stroke="#000" stroke-width="1.1" />
<text x="56" y="306.8" font-size="5.0" font-weight="normal" font-style="italic" text-anchor="end" fill="#000" stroke="#000" stroke-width="0.12">105</text>
<line x1="57.8" y1="305" x2="60.8" y2="305" stroke="#000" stroke-width="1.1" />
<text x="56" y="315.8" font-size="5.0" font-weight="normal" font-style="italic" text-anchor="end" fill="#000" stroke="#000" stroke-width="0.12">160</text>
<line x1="57.8" y1="314" x2="60.8" y2="314" stroke="#000" stroke-width="1.1" />
<text x="56" y="330.8" font-size="5.0" font-weight="normal" font-style="italic" text-anchor="end" fill="#000" stroke="#000" stroke-width="0.12">105</text>
<line x1="57.8" y1="329" x2="60.8" y2="329" stroke="#000" stroke-width="1.1" />
<g filter="url(#b3)">
<rect x="89.6" y="295.3" width="12.6" height="2.4" rx="1" fill="#111"/>
<rect x="112" y="297.3" width="14" height="1.6" rx="0.8" fill="#b8b8b8"/>
<rect x="133" y="297.6" width="17" height="2.8" rx="1.2" fill="#111"/>
</g>
<g filter="url(#b1)">
<ellipse cx="74.4" cy="322.7" rx="9.4" ry="1.5" fill="#000"/>
<rect x="66.6" y="320.4" width="15.6" height="4.5" rx="2.2" fill="#000"/>
<ellipse cx="97" cy="322" rx="8.2" ry="1.6" fill="#000"/>
<rect x="90" y="319.6" width="14" height="4.9" rx="2.4" fill="#000"/>
<ellipse cx="120" cy="322.4" rx="9.2" ry="1.6" fill="#000"/>
<rect x="112.4" y="319.8" width="15.2" height="5.1" rx="2.5" fill="#000"/>
<ellipse cx="142.4" cy="321.5" rx="9.5" ry="1.8" fill="#000"/>
<rect x="134.4" y="318.6" width="16" height="5.8" rx="2.8" fill="#000"/>
</g>
<text x="183" y="294.6" font-size="6.4" font-weight="normal" font-style="italic" text-anchor="start" fill="#111" >IP:EphB4</text>
<text x="183" y="303" font-size="6.4" font-weight="normal" font-style="italic" text-anchor="start" fill="#111" >WB: pTyr</text>
<text x="183" y="319.4" font-size="6.4" font-weight="normal" font-style="italic" text-anchor="start" fill="#111" >IP:EphB4</text>
<text x="183" y="326.6" font-size="6.4" font-weight="normal" font-style="italic" text-anchor="start" fill="#222" >WB: EphB4</text>
<text x="60.6" y="342" font-size="7.6" font-weight="bold" font-style="normal" text-anchor="end" fill="#000"  stroke="#000" stroke-width="0.182">HUVEC</text>
<line x1="71.80000000000001" y1="339.7" x2="75.0" y2="339.7" stroke="#000" stroke-width="0.7" />
<line x1="73.4" y1="338.09999999999997" x2="73.4" y2="341.3" stroke="#000" stroke-width="0.7" />
<line x1="94.7" y1="339.7" x2="97.89999999999999" y2="339.7" stroke="#000" stroke-width="0.7" />
<line x1="96.3" y1="338.09999999999997" x2="96.3" y2="341.3" stroke="#000" stroke-width="0.7" />
<line x1="117.9" y1="339.7" x2="121.1" y2="339.7" stroke="#000" stroke-width="0.7" />
<line x1="119.5" y1="338.09999999999997" x2="119.5" y2="341.3" stroke="#000" stroke-width="0.7" />
<line x1="142.0" y1="339.7" x2="145.2" y2="339.7" stroke="#000" stroke-width="0.7" />
<line x1="143.6" y1="338.09999999999997" x2="143.6" y2="341.3" stroke="#000" stroke-width="0.7" />
<line x1="166.9" y1="339.7" x2="169.1" y2="339.7" stroke="#222" stroke-width="0.7" />
<text x="62" y="353" font-size="7.6" font-weight="bold" font-style="normal" text-anchor="end" fill="#000"  stroke="#000" stroke-width="0.182">HEK293-EFNB2</text>
<line x1="72.30000000000001" y1="350.7" x2="74.5" y2="350.7" stroke="#222" stroke-width="0.7" />
<line x1="94.7" y1="350.7" x2="97.89999999999999" y2="350.7" stroke="#000" stroke-width="0.7" />
<line x1="96.3" y1="349.09999999999997" x2="96.3" y2="352.3" stroke="#000" stroke-width="0.7" />
<line x1="117.9" y1="350.7" x2="121.1" y2="350.7" stroke="#000" stroke-width="0.7" />
<line x1="119.5" y1="349.09999999999997" x2="119.5" y2="352.3" stroke="#000" stroke-width="0.7" />
<line x1="142.0" y1="350.7" x2="145.2" y2="350.7" stroke="#000" stroke-width="0.7" />
<line x1="143.6" y1="349.09999999999997" x2="143.6" y2="352.3" stroke="#000" stroke-width="0.7" />
<line x1="166.4" y1="350.7" x2="169.6" y2="350.7" stroke="#000" stroke-width="0.7" />
<line x1="168" y1="349.09999999999997" x2="168" y2="352.3" stroke="#000" stroke-width="0.7" />
<text x="62.4" y="364" font-size="7.6" font-weight="bold" font-style="normal" text-anchor="end" fill="#000"  stroke="#000" stroke-width="0.182">scFv B11</text>
<line x1="72.30000000000001" y1="361.7" x2="74.5" y2="361.7" stroke="#222" stroke-width="0.7" />
<line x1="95.2" y1="361.7" x2="97.39999999999999" y2="361.7" stroke="#222" stroke-width="0.7" />
<line x1="117.9" y1="361.7" x2="121.1" y2="361.7" stroke="#000" stroke-width="0.7" />
<line x1="119.5" y1="360.09999999999997" x2="119.5" y2="363.3" stroke="#000" stroke-width="0.7" />
<line x1="142.5" y1="361.7" x2="144.7" y2="361.7" stroke="#222" stroke-width="0.7" />
<line x1="166.9" y1="361.7" x2="169.1" y2="361.7" stroke="#222" stroke-width="0.7" />
<text x="62.4" y="375" font-size="7.6" font-weight="bold" font-style="normal" text-anchor="end" fill="#000"  stroke="#000" stroke-width="0.182">scFv 2B1</text>
<line x1="72.30000000000001" y1="372.7" x2="74.5" y2="372.7" stroke="#222" stroke-width="0.7" />
<line x1="95.2" y1="372.7" x2="97.39999999999999" y2="372.7" stroke="#222" stroke-width="0.7" />
<line x1="118.4" y1="372.7" x2="120.6" y2="372.7" stroke="#222" stroke-width="0.7" />
<line x1="142.0" y1="372.7" x2="145.2" y2="372.7" stroke="#000" stroke-width="0.7" />
<line x1="143.6" y1="371.09999999999997" x2="143.6" y2="374.3" stroke="#000" stroke-width="0.7" />
<line x1="166.9" y1="372.7" x2="169.1" y2="372.7" stroke="#222" stroke-width="0.7" />
<rect x="264" y="285.4" width="113.4" height="21.8" fill="#f2f2f2" stroke="#222" stroke-width="0.7" />
<rect x="264" y="309.6" width="113.4" height="26" fill="#c9c9c9" stroke="#222" stroke-width="0.7" />
<text x="260.2" y="293.0" font-size="4.7" font-weight="normal" font-style="normal" text-anchor="end" fill="#111" >50</text>
<line x1="261.2" y1="291.4" x2="263.8" y2="291.4" stroke="#000" stroke-width="0.8" />
<text x="260.2" y="308.0" font-size="4.7" font-weight="normal" font-style="normal" text-anchor="end" fill="#111" >35</text>
<line x1="261.2" y1="306.4" x2="263.8" y2="306.4" stroke="#000" stroke-width="0.8" />
<text x="260.2" y="315.20000000000005" font-size="4.7" font-weight="normal" font-style="normal" text-anchor="end" fill="#111" >50</text>
<line x1="261.2" y1="313.6" x2="263.8" y2="313.6" stroke="#000" stroke-width="0.8" />
<text x="260.2" y="329.6" font-size="4.7" font-weight="normal" font-style="normal" text-anchor="end" fill="#111" >35</text>
<line x1="261.2" y1="328" x2="263.8" y2="328" stroke="#000" stroke-width="0.8" />
<clipPath id="cf1"><rect x="264.4" y="285.8" width="112.6" height="21"/></clipPath>
<g clip-path="url(#cf1)"><g filter="url(#b2)">
<rect x="286.4" y="293.6" width="14.4" height="6.4" rx="2" fill="#7c7c7c"/>
<rect x="304" y="294" width="13" height="6" rx="2" fill="#dedede"/>
<rect x="323" y="294" width="13" height="6" rx="2" fill="#e2e2e2"/>
<rect x="343" y="291" width="13.6" height="8.4" rx="2" fill="#8a8a8a"/>
<rect x="343.4" y="291" width="13" height="4.6" rx="2" fill="#3c3c3c"/>
<rect x="360.6" y="291.4" width="11.4" height="8" rx="2" fill="#b4b4b4"/>
<rect x="361" y="291.6" width="10" height="4.4" rx="2" fill="#8c8c8c"/>
<rect x="268" y="294" width="12" height="5" rx="2" fill="#e8e8e8"/>
</g></g>
<line x1="263.7" y1="285.4" x2="377.7" y2="285.4" stroke="#111" stroke-width="1.0" />
<line x1="263.7" y1="307.1" x2="377.7" y2="307.1" stroke="#111" stroke-width="1.2" />
<clipPath id="cf2"><rect x="264.4" y="310" width="112.6" height="25.2"/></clipPath>
<linearGradient id="gf2" x1="0" y1="0" x2="0" y2="1"><stop offset="0" stop-color="#dcdcdc"/><stop offset="0.22" stop-color="#c2c2c2"/><stop offset="0.8" stop-color="#b0b0b0"/><stop offset="1" stop-color="#d8d8d8"/></linearGradient>
<rect x="264.4" y="310" width="112.6" height="25.2" fill="url(#gf2)"/>
<g clip-path="url(#cf2)"><g filter="url(#b1)">
<path d="M262.00,318.00 L266.00,317.20 L274.00,316.60 L281.00,317.40 L283.50,318.20 L287.00,317.00 L294.00,316.40 L299.00,317.00 L302.50,318.40 L306.00,317.60 L312.00,317.40 L317.00,318.00 L320.50,318.80 L324.00,317.20 L331.00,316.60 L336.00,317.20 L339.50,318.20 L343.00,316.60 L350.00,315.80 L355.00,316.20 L358.00,317.00 L361.00,315.40 L368.00,314.80 L374.00,315.20 L378.00,316.00 L378.00,329.00 L374.00,329.80 L366.00,330.00 L360.50,329.40 L358.20,327.60 L356.00,330.60 L350.00,331.60 L343.00,331.00 L340.80,329.80 L339.50,327.80 L338.00,330.00 L331.00,331.20 L324.00,330.60 L321.80,329.20 L320.50,327.40 L319.00,329.20 L312.00,330.20 L306.00,329.80 L303.60,329.40 L302.50,327.60 L301.00,330.20 L294.00,331.40 L287.00,330.80 L284.60,329.80 L283.50,328.00 L282.00,330.80 L274.00,332.00 L266.00,331.80 L262.00,331.00Z" fill="#000"/>
</g></g>
<line x1="263.7" y1="309.6" x2="377.7" y2="309.6" stroke="#111" stroke-width="1.2" />
<line x1="263.7" y1="335.6" x2="377.7" y2="335.6" stroke="#222" stroke-width="1.0" />
<text x="381.6" y="296" font-size="6.5" font-weight="normal" font-style="italic" text-anchor="start" fill="#222" >IP: c-myc</text>
<text x="381.6" y="304" font-size="6.5" font-weight="normal" font-style="italic" text-anchor="start" fill="#222" >WB: pTyr</text>
<text x="381.6" y="322" font-size="6.5" font-weight="normal" font-style="italic" text-anchor="start" fill="#222" >IP: c-myc</text>
<text x="381.6" y="329.6" font-size="6.5" font-weight="normal" font-style="italic" text-anchor="start" fill="#222" >WB:ephrinB2</text>
<text x="263" y="348" font-size="7.7" font-weight="bold" font-style="normal" text-anchor="end" fill="#000"  stroke="#000" stroke-width="0.185">EphB4-Fc</text>
<line x1="273.09999999999997" y1="344.6" x2="275.3" y2="344.6" stroke="#222" stroke-width="0.7" />
<line x1="291.59999999999997" y1="344.6" x2="294.8" y2="344.6" stroke="#000" stroke-width="0.7" />
<line x1="293.2" y1="343.0" x2="293.2" y2="346.20000000000005" stroke="#000" stroke-width="0.7" />
<line x1="310.79999999999995" y1="344.6" x2="313.0" y2="344.6" stroke="#222" stroke-width="0.7" />
<line x1="330.2" y1="344.6" x2="332.40000000000003" y2="344.6" stroke="#222" stroke-width="0.7" />
<line x1="347.59999999999997" y1="344.6" x2="350.8" y2="344.6" stroke="#000" stroke-width="0.7" />
<line x1="349.2" y1="343.0" x2="349.2" y2="346.20000000000005" stroke="#000" stroke-width="0.7" />
<line x1="366.4" y1="344.6" x2="369.6" y2="344.6" stroke="#000" stroke-width="0.7" />
<line x1="368" y1="343.0" x2="368" y2="346.20000000000005" stroke="#000" stroke-width="0.7" />
<text x="263" y="360.1" font-size="7.7" font-weight="bold" font-style="normal" text-anchor="end" fill="#000"  stroke="#000" stroke-width="0.185">scFv B11</text>
<line x1="273.09999999999997" y1="356.70000000000005" x2="275.3" y2="356.70000000000005" stroke="#222" stroke-width="0.7" />
<line x1="292.09999999999997" y1="356.70000000000005" x2="294.3" y2="356.70000000000005" stroke="#222" stroke-width="0.7" />
<line x1="310.29999999999995" y1="356.70000000000005" x2="313.5" y2="356.70000000000005" stroke="#000" stroke-width="0.7" />
<line x1="311.9" y1="355.1" x2="311.9" y2="358.30000000000007" stroke="#000" stroke-width="0.7" />
<line x1="330.2" y1="356.70000000000005" x2="332.40000000000003" y2="356.70000000000005" stroke="#222" stroke-width="0.7" />
<line x1="347.59999999999997" y1="356.70000000000005" x2="350.8" y2="356.70000000000005" stroke="#000" stroke-width="0.7" />
<line x1="349.2" y1="355.1" x2="349.2" y2="358.30000000000007" stroke="#000" stroke-width="0.7" />
<line x1="366.9" y1="356.70000000000005" x2="369.1" y2="356.70000000000005" stroke="#222" stroke-width="0.7" />
<text x="263" y="372.4" font-size="7.7" font-weight="bold" font-style="normal" text-anchor="end" fill="#000"  stroke="#000" stroke-width="0.185">scFv 2B1</text>
<line x1="273.09999999999997" y1="369.0" x2="275.3" y2="369.0" stroke="#222" stroke-width="0.7" />
<line x1="292.09999999999997" y1="369.0" x2="294.3" y2="369.0" stroke="#222" stroke-width="0.7" />
<line x1="310.79999999999995" y1="369.0" x2="313.0" y2="369.0" stroke="#222" stroke-width="0.7" />
<line x1="329.7" y1="369.0" x2="332.90000000000003" y2="369.0" stroke="#000" stroke-width="0.7" />
<line x1="331.3" y1="367.4" x2="331.3" y2="370.6" stroke="#000" stroke-width="0.7" />
<line x1="348.09999999999997" y1="369.0" x2="350.3" y2="369.0" stroke="#222" stroke-width="0.7" />
<line x1="366.4" y1="369.0" x2="369.6" y2="369.0" stroke="#000" stroke-width="0.7" />
<line x1="368" y1="367.4" x2="368" y2="370.6" stroke="#000" stroke-width="0.7" />
<line x1="444.6" y1="286" x2="444.6" y2="362" stroke="#000" stroke-width="0.8" />
<line x1="444.2" y1="361.6" x2="502.4" y2="361.6" stroke="#000" stroke-width="0.9" />
<line x1="443.2" y1="361.6" x2="444.6" y2="361.6" stroke="#000" stroke-width="0.6" />
<text x="442.4" y="363.0" font-size="4.0" font-weight="bold" font-style="normal" text-anchor="end" fill="#000"  stroke="#000" stroke-width="0.096">0</text>
<line x1="443.2" y1="342.75" x2="444.6" y2="342.75" stroke="#000" stroke-width="0.6" />
<text x="442.4" y="344.15" font-size="4.0" font-weight="bold" font-style="normal" text-anchor="end" fill="#000"  stroke="#000" stroke-width="0.096">1</text>
<line x1="443.2" y1="323.90000000000003" x2="444.6" y2="323.90000000000003" stroke="#000" stroke-width="0.6" />
<text x="442.4" y="325.3" font-size="4.0" font-weight="bold" font-style="normal" text-anchor="end" fill="#000"  stroke="#000" stroke-width="0.096">2</text>
<line x1="443.2" y1="305.05" x2="444.6" y2="305.05" stroke="#000" stroke-width="0.6" />
<text x="442.4" y="306.45" font-size="4.0" font-weight="bold" font-style="normal" text-anchor="end" fill="#000"  stroke="#000" stroke-width="0.096">3</text>
<line x1="443.2" y1="286.20000000000005" x2="444.6" y2="286.20000000000005" stroke="#000" stroke-width="0.6" />
<text x="442.4" y="287.6" font-size="4.0" font-weight="bold" font-style="normal" text-anchor="end" fill="#000"  stroke="#000" stroke-width="0.096">4</text>
<rect x="447" y="342.75" width="6.8" height="18.85" fill="#000"/>
<rect x="456.2" y="293.55" width="6.8" height="68.05" fill="#000"/>
<line x1="459.59999999999997" y1="293.55150000000003" x2="459.59999999999997" y2="290.5355" stroke="#222" stroke-width="0.6" />
<line x1="458.5" y1="290.5355" x2="460.7" y2="290.5355" stroke="#222" stroke-width="0.6" />
<rect x="465.4" y="343.88" width="6.8" height="17.72" fill="#000"/>
<line x1="468.79999999999995" y1="343.88100000000003" x2="468.79999999999995" y2="340.11100000000005" stroke="#222" stroke-width="0.6" />
<line x1="467.7" y1="340.11100000000005" x2="469.9" y2="340.11100000000005" stroke="#222" stroke-width="0.6" />
<rect x="474.7" y="342.75" width="6.8" height="18.85" fill="#000"/>
<line x1="478.09999999999997" y1="342.75" x2="478.09999999999997" y2="339.1685" stroke="#222" stroke-width="0.6" />
<line x1="477.0" y1="339.1685" x2="479.2" y2="339.1685" stroke="#222" stroke-width="0.6" />
<rect x="484" y="296.00" width="6.8" height="65.60" fill="#000"/>
<line x1="487.4" y1="296.002" x2="487.4" y2="290.34700000000004" stroke="#222" stroke-width="0.6" />
<line x1="486.3" y1="290.34700000000004" x2="488.5" y2="290.34700000000004" stroke="#222" stroke-width="0.6" />
<rect x="493.3" y="302.98" width="6.8" height="58.62" fill="#000"/>
<line x1="496.7" y1="302.97650000000004" x2="496.7" y2="294.87100000000004" stroke="#222" stroke-width="0.6" />
<line x1="495.6" y1="294.87100000000004" x2="497.8" y2="294.87100000000004" stroke="#222" stroke-width="0.6" />
<text transform="translate(435,324.6) rotate(-90)" font-size="4.85" font-weight="bold" text-anchor="middle">Relative phosphorylation level</text>
<text transform="translate(450.6,369) rotate(-45)" font-size="4.7" font-weight="bold" stroke="#000" stroke-width="0.12" text-anchor="end">C-</text>
<text transform="translate(459.8,369) rotate(-45)" font-size="4.7" font-weight="bold" stroke="#000" stroke-width="0.12" text-anchor="end">EphB4</text>
<text transform="translate(469.0,369) rotate(-45)" font-size="4.7" font-weight="bold" stroke="#000" stroke-width="0.12" text-anchor="end">B11</text>
<text transform="translate(478.3,369) rotate(-45)" font-size="4.7" font-weight="bold" stroke="#000" stroke-width="0.12" text-anchor="end">2B1</text>
<text transform="translate(487.6,369) rotate(-45)" font-size="4.7" font-weight="bold" stroke="#000" stroke-width="0.12" text-anchor="end">EphB4+B11</text>
<text transform="translate(496.90000000000003,369) rotate(-45)" font-size="4.7" font-weight="bold" stroke="#000" stroke-width="0.12" text-anchor="end">EphB4+2B1</text>
</g>
</svg></body></html>
